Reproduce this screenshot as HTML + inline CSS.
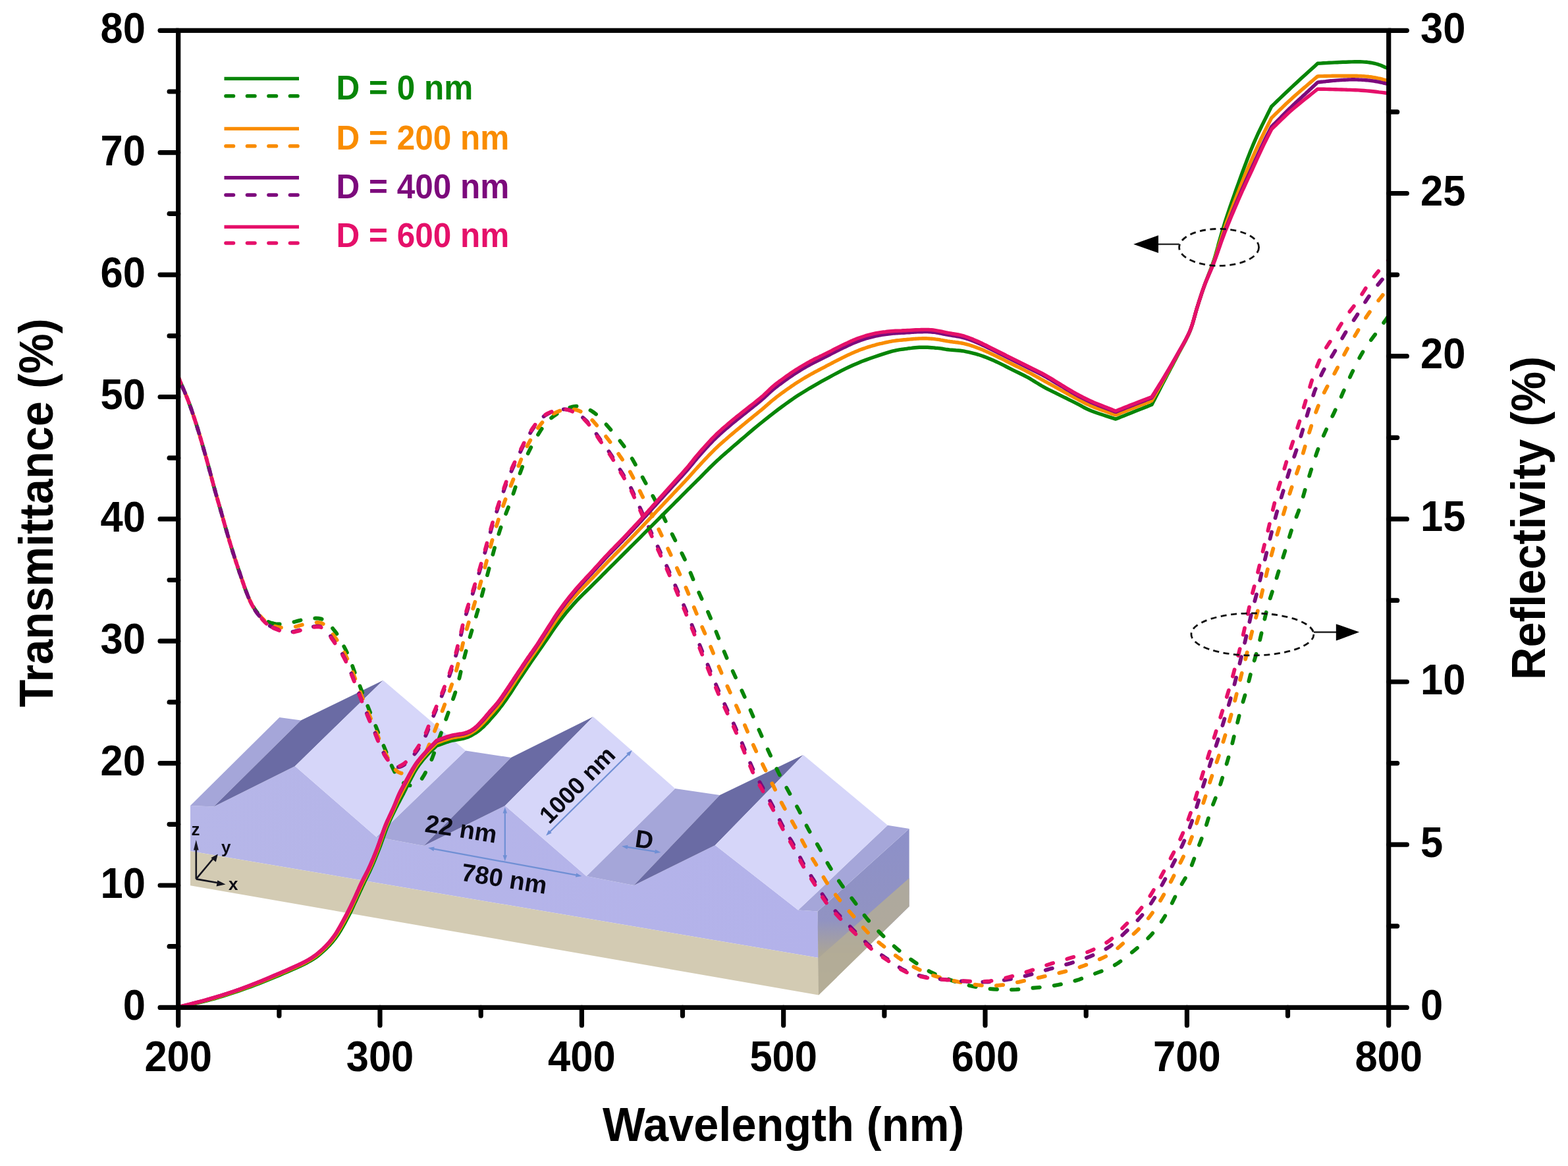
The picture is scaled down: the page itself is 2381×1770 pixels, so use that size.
<!DOCTYPE html>
<html><head><meta charset="utf-8"><title>Transmittance and Reflectivity vs Wavelength</title>
<style>html,body{margin:0;padding:0;background:#fff;}svg{display:block;}</style>
</head><body>
<svg width="2381" height="1770" viewBox="0 0 2381 1770"><g><defs><linearGradient id="sideg" x1="0" y1="0" x2="0" y2="1"><stop offset="0" stop-color="#8d90c9"/><stop offset="0.55" stop-color="#9193c2"/><stop offset="0.75" stop-color="#aba596"/><stop offset="1" stop-color="#b9b29c"/></linearGradient><linearGradient id="frontg" x1="0" y1="0" x2="1" y2="0"><stop offset="0" stop-color="#b6b6e8"/><stop offset="1" stop-color="#b3b2ea"/></linearGradient></defs><polygon fill="url(#frontg)" points="289.0,1223.0 324.5,1224.5 448.0,1163.0 571.5,1270.5 643.5,1284.0 767.0,1223.0 890.5,1330.0 962.5,1344.0 1086.0,1283.0 1212.0,1381.5 1241.5,1383.5 1243.0,1454.0 289.0,1292.0"/><polygon fill="#d3cbb3" points="289.0,1292.0 1243.0,1454.0 1243.0,1510.5 289.0,1344.3"/><polygon fill="url(#sideg)" points="1241.5,1383.5 1380.6,1258.0 1380.6,1376.0 1243.0,1510.5"/><polygon fill="#b4ad97" opacity="0.85" points="1243.0,1454.0 1380.6,1333.0 1380.6,1376.0 1243.0,1510.5"/><polygon fill="#a5a6d9" points="289.0,1223.0 324.5,1224.5 457.0,1093.5 424.4,1089.0"/><polygon fill="#a5a6d9" points="571.5,1270.5 643.5,1284.0 776.0,1150.0 707.0,1139.5"/><polygon fill="#a5a6d9" points="890.5,1330.0 962.5,1344.0 1093.0,1207.0 1025.0,1197.0"/><polygon fill="#a5a6d9" points="1212.0,1381.5 1241.5,1383.5 1380.6,1258.0 1347.9,1252.7"/><polygon fill="#6a6ba4" points="324.5,1224.5 448.0,1163.0 581.8,1032.7 457.0,1093.5"/><polygon fill="#6a6ba4" points="643.5,1284.0 767.0,1223.0 900.8,1088.1 776.0,1150.0"/><polygon fill="#6a6ba4" points="962.5,1344.0 1086.0,1283.0 1219.8,1146.0 1093.0,1207.0"/><polygon fill="#d6d6f9" points="448.0,1163.0 571.5,1270.5 707.0,1139.5 581.8,1032.7"/><polygon fill="#d6d6f9" points="767.0,1223.0 890.5,1330.0 1025.0,1197.0 900.8,1088.1"/><polygon fill="#d6d6f9" points="1086.0,1283.0 1212.0,1381.5 1347.9,1252.7 1219.8,1146.0"/><line x1="766.8" y1="1232.6" x2="766.8" y2="1300.1" stroke="#6f8fd4" stroke-width="2.2"/><polygon fill="#6f8fd4" points="766.8,1225.4 763.6,1234.4 770.0,1234.4"/><polygon fill="#6f8fd4" points="766.8,1307.3 763.6,1298.3 770.0,1298.3"/><line x1="657.3" y1="1288.4" x2="876.3" y2="1328.7" stroke="#6f8fd4" stroke-width="2.2"/><polygon fill="#6f8fd4" points="650.2,1287.1 658.5,1291.9 659.6,1285.6"/><polygon fill="#6f8fd4" points="883.4,1330.0 874.0,1331.5 875.1,1325.2"/><line x1="834.2" y1="1263.5" x2="954.7" y2="1144.2" stroke="#6f8fd4" stroke-width="2.2"/><polygon fill="#6f8fd4" points="829.1,1268.6 837.7,1264.5 833.2,1260.0"/><polygon fill="#6f8fd4" points="959.8,1139.1 955.7,1147.7 951.2,1143.2"/><line x1="951.2" y1="1285.6" x2="996.3" y2="1292.8" stroke="#6f8fd4" stroke-width="2.2"/><polygon fill="#6f8fd4" points="944.1,1284.4 952.5,1289.0 953.5,1282.7"/><polygon fill="#6f8fd4" points="1003.4,1294.0 994.0,1295.7 995.0,1289.4"/><text font-family='"Liberation Sans", Arial, Helvetica, sans-serif' font-weight="bold" fill="#0a0a14" font-size="38" transform="translate(644,1262.5) rotate(9)">22 nm</text><text font-family='"Liberation Sans", Arial, Helvetica, sans-serif' font-weight="bold" fill="#0a0a14" font-size="38" transform="translate(699,1336.5) rotate(9)">780 nm</text><text font-family='"Liberation Sans", Arial, Helvetica, sans-serif' font-weight="bold" fill="#0a0a14" font-size="36.5" text-anchor="middle" transform="translate(885.4,1200.2) rotate(-45.5)">1000 nm</text><text font-family='"Liberation Sans", Arial, Helvetica, sans-serif' font-weight="bold" fill="#0a0a14" font-size="38" transform="translate(963,1285.6) rotate(8)">D</text><g stroke="#15151f" stroke-width="2.6" fill="none"><line x1="297.8" y1="1334.4" x2="297.8" y2="1288"/><line x1="297.8" y1="1334.4" x2="324" y2="1303"/><line x1="297.8" y1="1334.4" x2="330" y2="1340"/></g><g fill="#15151f"><polygon points="297.8,1274.9 301.6,1290.5 294,1290.5"/><polygon points="330.8,1296.6 327.8,1308.5 320.4,1302.3"/><polygon points="342.5,1342.4 328.6,1345.6 330.3,1336.2"/></g><text font-family='"Liberation Sans", Arial, Helvetica, sans-serif' font-weight="bold" fill="#0a0a14" font-size="26" x="290.5" y="1267.5">z</text><text font-family='"Liberation Sans", Arial, Helvetica, sans-serif' font-weight="bold" fill="#0a0a14" font-size="26" x="336" y="1295">y</text><text font-family='"Liberation Sans", Arial, Helvetica, sans-serif' font-weight="bold" fill="#0a0a14" font-size="26" x="347" y="1350.5">x</text></g>
<g><path d="M270.7,572.0L271.7,574.4 272.6,576.7 273.7,579.3 275.2,583.0 277.3,588.0 279.9,593.9 282.6,600.3 285.3,607.0 287.8,613.8 290.4,621.0 292.9,628.5 295.5,636.2 298.1,644.1 300.6,652.4 303.2,660.8 305.7,669.3 308.2,678.0 310.7,686.8 313.3,695.8 315.8,704.9 318.3,714.3 320.9,724.0 323.4,733.6 326.0,743.0 328.6,752.1 331.1,761.0 333.7,769.8 336.2,778.6 338.7,787.5 341.2,796.5 343.8,805.4 346.3,814.1 348.8,822.6 351.4,831.0 353.9,839.2 356.5,847.2 359.1,855.1 361.6,862.8 364.2,870.3 366.7,877.7 369.2,885.1 371.7,892.3 374.3,899.3 376.8,905.6 379.3,911.2 381.9,916.4 384.5,920.9 387.0,925.0 389.5,928.4 392.0,931.2 394.6,933.7 397.1,936.0 399.5,938.3 401.9,940.5 404.4,942.4 407.3,944.0 410.6,945.3 414.3,946.4" fill="none" stroke="#078507" stroke-width="5.8" stroke-dasharray="10.5 22" stroke-dashoffset="22" stroke-linecap="round" stroke-linejoin="round"/>
<path d="M414.3,946.4L418.3,947.2 422.6,947.5 427.3,947.4 432.4,946.8 437.7,945.9 442.9,945.0 448.0,943.8 453.0,942.4 458.1,941.0 463.2,939.9 468.5,939.2 473.8,938.7 479.0,938.5 483.5,938.7 487.3,939.4 490.6,940.4 493.5,941.9 496.3,943.7 499.0,946.1 501.4,948.9 503.7,952.0 506.0,955.0 508.1,957.6 510.0,960.0 512.0,962.9 514.5,967.0 517.7,972.6 521.3,979.4 525.1,986.8 528.5,994.0 531.5,1001.1 534.2,1008.4 536.8,1015.7 539.5,1023.0 542.2,1030.2 545.0,1037.5 547.7,1044.8 550.5,1052.0 553.3,1059.2 556.2,1066.4 559.1,1073.7 562.0,1081.0 565.0,1088.5 568.0,1096.1 571.1,1103.7 574.0,1111.0 576.8,1118.0 579.6,1124.8 582.3,1131.5 585.0,1138.0 587.6,1144.6 590.1,1151.1 592.5,1157.3 595.0,1163.0 597.5,1168.2 599.9,1172.9 602.4,1177.2 605.0,1181.0 607.9,1184.3 610.9,1187.1 614.0,1189.4 617.0,1191.0 620.0,1192.0 623.1,1192.4 626.1,1192.2 629.0,1191.5 631.8,1190.4 634.4,1188.9 637.1,1186.6 640.0,1183.0 643.3,1177.8 646.9,1171.3 650.5,1164.2 653.7,1157.2 656.5,1150.3 659.1,1143.3 661.5,1136.1 664.0,1129.0 666.5,1122.0 669.0,1115.0 671.5,1107.8 674.1,1100.5 676.8,1092.8 679.7,1084.8 682.5,1076.8 685.2,1069.1 687.7,1061.9 690.1,1055.0 692.4,1048.0 694.6,1040.7 696.7,1032.8 698.6,1024.6 700.5,1016.2 702.5,1008.0 704.6,999.9 706.7,991.8 708.8,983.8 711.0,976.0 713.2,968.4 715.4,960.9 717.6,953.6 719.8,946.3 721.9,939.2 723.9,932.2 726.0,925.2 728.0,918.0 730.0,910.6 732.0,903.1 734.0,895.5 736.0,888.0 738.0,880.6 739.9,873.2 741.9,865.7 744.0,858.0 746.2,849.9 748.4,841.5 750.7,833.1 753.0,825.0 755.2,817.6 757.3,810.6 759.6,803.4 762.3,795.5 765.5,786.7 769.1,777.4 773.0,767.5 776.9,756.8 781.0,744.8 785.2,731.8 789.5,718.8 793.8,707.0 798.0,696.8 802.1,687.5 806.4,678.8 810.8,670.5 815.5,662.3 820.3,654.4 825.2,647.2 830.1,641.0 835.1,636.0 840.1,632.1 845.0,628.8 849.5,626.0 853.5,623.6 857.1,621.7 860.5,620.2 864.0,619.0 867.6,617.9 871.1,617.1 874.7,616.7 878.5,616.8 882.5,617.4 886.7,618.6 890.9,620.1 895.0,622.0 898.7,624.1 902.2,626.5 905.8,629.4 910.0,633.3 915.0,638.4 920.6,644.5 926.4,651.1 931.8,657.5 936.9,663.6 941.8,669.7 946.6,676.0 951.2,682.5 955.7,689.4 960.0,696.6 964.1,703.8 968.1,710.8 971.9,717.6 975.5,724.2 979.1,730.8 982.7,737.4 986.3,744.0 990.0,750.5 993.6,757.2 997.2,764.0 1000.8,771.1 1004.5,778.4 1008.1,785.8 1011.7,793.1 1015.3,800.4 1018.9,807.6 1022.6,814.8 1026.2,822.1 1029.9,829.4 1033.7,836.6 1037.3,843.9 1040.8,851.2 1044.0,858.4 1046.9,865.7 1049.9,872.9 1052.9,880.2 1056.1,887.7 1059.4,895.2 1062.7,902.7 1066.0,910.0 1068.9,916.1 1071.5,921.4 1074.5,927.8 1078.5,937.0 1084.0,950.3 1090.4,966.5 1097.3,983.7 1104.1,999.9 1110.8,1014.8 1117.5,1029.4 1124.3,1043.8 1130.8,1058.0 1137.0,1072.0 1142.9,1085.9 1148.8,1099.7 1155.0,1113.7 1161.7,1128.7 1168.8,1144.3 1175.6,1159.1 1181.6,1171.8 1186.6,1181.7 1190.8,1189.5 1194.7,1196.4 1198.5,1203.3 1202.3,1210.2 1206.0,1216.8 1209.5,1223.2 1213.1,1229.9 1216.7,1237.0 1220.2,1244.3 1223.8,1251.7 1227.6,1259.0 1231.7,1266.3 1236.1,1273.7 1240.5,1280.9 1244.6,1288.0 1248.3,1294.8 1251.7,1301.3 1255.2,1307.9 1259.1,1314.6 1263.5,1321.7 1268.2,1329.0 1273.1,1336.3 1277.9,1343.2 1282.5,1349.5 1287.2,1355.5 1291.8,1361.5 1296.6,1367.7 1301.5,1374.4 1306.5,1381.4 1311.6,1388.4 1316.8,1395.0 1322.1,1401.1 1327.4,1406.9 1332.9,1412.5 1338.4,1418.1 1344.0,1423.7 1349.8,1429.2 1355.6,1434.5 1361.5,1439.7 1367.4,1444.6 1373.4,1449.3 1379.6,1453.9 1385.9,1458.4 1392.5,1463.0 1399.3,1467.5 1406.3,1471.8 1413.3,1475.7 1420.4,1479.0 1427.6,1482.0 1434.9,1484.7 1442.1,1487.2 1449.3,1489.7 1456.5,1492.0 1463.7,1494.1 1470.9,1495.9 1478.0,1497.5 1485.1,1498.8 1492.3,1499.9 1500.0,1500.8 1508.3,1501.5 1516.9,1502.1 1525.7,1502.4 1534.4,1502.4 1542.9,1502.1 1551.3,1501.4 1559.6,1500.6 1567.8,1499.8 1575.8,1499.1 1583.7,1498.3 1591.5,1497.4 1599.4,1496.3 1607.3,1494.9 1615.3,1493.2 1623.2,1491.4 1631.0,1489.3 1638.6,1486.9 1646.0,1484.3 1653.4,1481.6 1660.8,1478.7 1668.3,1475.9 1675.9,1473.1 1683.4,1470.0 1690.6,1466.4 1697.5,1462.1 1704.1,1457.3 1710.6,1452.2 1717.0,1447.1 1723.4,1442.0 1729.7,1436.8 1735.8,1431.5 1741.5,1426.1 1746.8,1420.6 1751.7,1415.0 1756.4,1409.2 1760.9,1403.2 1765.1,1396.9 1769.1,1390.4 1772.9,1383.7 1776.6,1376.9 1780.2,1370.0 1783.6,1363.0 1787.1,1355.9 1790.7,1348.8 1794.6,1341.9 1798.7,1335.0 1802.8,1328.0 1806.5,1320.7 1809.8,1313.0 1812.8,1304.9 1815.7,1296.8 1818.5,1289.0 1821.4,1281.5 1824.2,1274.2 1826.9,1266.9 1829.5,1259.6 1831.9,1252.1 1834.2,1244.6 1836.5,1237.1 1838.9,1229.6 1841.6,1222.1 1844.6,1214.5 1847.5,1207.0 1850.2,1199.5 1852.7,1192.0 1855.0,1184.6 1857.3,1177.1 1859.6,1169.5 1862.0,1161.6 1864.4,1153.5 1866.7,1145.5 1868.9,1137.6 1870.9,1130.0 1872.7,1122.6 1874.5,1115.2 1876.4,1107.6 1878.4,1099.7 1880.4,1091.6 1882.4,1083.6 1884.5,1075.7 1886.7,1068.1 1888.9,1060.7 1891.1,1053.3 1893.3,1045.7 1895.4,1037.8 1897.4,1029.7 1899.4,1021.7 1901.5,1013.8 1903.6,1006.3 1905.8,998.9 1908.0,991.5 1910.1,984.0 1912.1,976.2 1913.9,968.2 1915.8,960.1 1917.6,952.1 1919.4,944.1 1921.2,936.0 1923.1,928.0 1925.1,920.2 1927.3,912.6 1929.7,905.1 1932.1,897.7 1934.5,890.2 1936.8,882.7 1939.2,875.2 1941.5,867.6 1943.9,860.1 1946.2,852.6 1948.6,845.1 1951.0,837.6 1953.3,830.1 1955.6,822.6 1957.9,815.1 1960.2,807.6 1962.7,800.1 1965.4,792.6 1968.3,785.2 1971.2,777.7 1973.9,770.1 1976.4,762.2 1978.7,754.2 1981.0,746.1 1983.3,738.2 1985.6,730.5 1988.0,723.0 1990.3,715.5 1992.7,708.1 1995.0,700.8 1997.3,693.7 1999.8,686.5 2002.5,679.0 2005.7,671.0 2009.2,662.7 2012.9,654.4 2016.4,646.5 2019.8,639.2 2023.1,632.2 2026.3,625.4 2029.6,618.3 2032.9,610.9 2036.2,603.3 2039.4,595.7 2042.7,588.3 2045.9,581.1 2049.1,574.1 2052.4,567.1 2055.8,560.1 2059.3,553.0 2062.9,545.9 2066.7,538.9 2070.8,532.0 2075.3,525.2 2080.2,518.4 2085.1,511.8 2089.6,505.7 2093.9,499.8 2098.1,494.1 2101.8,489.0 2104.6,485.1 2106.3,482.7 2107.0,481.6 2107.4,480.9 2108.0,480.0" fill="none" stroke="#078507" stroke-width="5.8" stroke-dasharray="10.5 22" stroke-dashoffset="0" stroke-linecap="round" stroke-linejoin="round"/>
<path d="M270.7,572.0L271.7,574.5 272.7,576.9 273.7,579.4 274.7,581.8 275.7,584.2 276.7,586.5 277.7,588.8 278.7,591.1 279.7,593.4 280.7,595.7 281.7,598.1 282.7,600.5 283.7,602.9 284.7,605.5 285.7,608.1 286.7,610.7 287.7,613.5 288.7,616.2 289.7,619.1 290.7,621.9 291.7,624.8 292.7,627.8 293.7,630.8 294.7,633.8 295.7,636.8 296.7,639.9 297.7,643.0 298.7,646.2 299.7,649.4 300.7,652.7 301.7,655.9 302.7,659.2 303.7,662.6 304.7,665.9 305.7,669.3 306.7,672.7 307.7,676.1 308.7,679.6 309.7,683.1 310.7,686.6 311.7,690.2 312.7,693.7 313.7,697.3 314.7,700.9 315.7,704.5 316.7,708.2 317.7,711.9 318.7,715.7 319.7,719.4 320.7,723.2 321.7,727.0 322.7,730.8 323.7,734.5 324.7,738.2 325.7,741.9 326.7,745.5 327.7,749.1 328.7,752.6 329.7,756.1 330.7,759.6 331.7,763.0 332.7,766.5 333.7,769.9 334.7,773.4 335.7,776.9 336.7,780.4 337.7,783.9 338.7,787.4 339.7,791.0 340.7,794.5 341.7,798.1 342.7,801.6 343.7,805.1 344.7,808.6 345.7,812.1 346.7,815.4 347.7,818.8 348.7,822.1 349.7,825.4 350.7,828.7 351.7,832.0 352.7,835.2 353.7,838.4 354.7,841.5 355.7,844.7 356.7,847.8 357.7,850.9 358.7,854.0 359.7,857.0 360.7,860.1 361.7,863.1 362.7,866.0 363.7,869.0 364.7,871.9 365.7,874.8 366.7,877.7 367.7,880.6 368.7,883.5 369.7,886.4 370.7,889.3 371.7,892.2 372.7,895.0 373.7,897.7 374.7,900.4 375.7,902.9 376.7,905.4 377.7,907.7 378.7,909.9 379.7,912.1 380.7,914.2 381.7,916.2 382.7,918.1 383.7,919.9 384.7,921.7 385.7,923.4 386.7,925.0 387.7,926.5 388.7,928.0 389.7,929.3 390.7,930.5 391.7,931.7 392.7,932.8 393.7,933.9 394.7,934.9 395.7,935.9 396.7,936.9 397.7,938.0 398.7,939.0 399.7,940.1 400.7,941.1 401.7,942.1 402.7,943.0 403.7,943.9 404.7,944.7 405.7,945.4 406.7,946.0 407.7,946.6 408.7,947.2 409.7,947.7 410.7,948.2 411.7,948.6 412.7,949.0 413.7,949.4 414.7,949.8 415.7,950.1 416.7,950.5 417.7,950.8" fill="none" stroke="#f98c00" stroke-width="5.8" stroke-dasharray="10.5 22" stroke-dashoffset="6" stroke-linecap="round" stroke-linejoin="round"/>
<path d="M417.7,950.8L418.7,951.0 419.7,951.3 420.7,951.5 421.7,951.8 422.7,952.0 423.7,952.1 424.7,952.3 425.7,952.4 426.7,952.6 427.7,952.7 428.7,952.8 429.7,952.9 430.7,953.0 431.7,953.0 432.7,953.1 433.7,953.1 434.7,953.1 435.7,953.1 436.7,953.1 437.7,953.1 438.7,953.0 439.7,952.9 440.7,952.8 441.7,952.7 442.7,952.6 443.7,952.4 444.7,952.3 445.7,952.0 446.7,951.8 447.7,951.6 448.7,951.3 449.7,951.0 450.7,950.8 451.7,950.5 452.7,950.2 453.7,949.9 454.7,949.6 455.7,949.3 456.7,949.0 457.7,948.8 458.7,948.5 459.7,948.3 460.7,948.1 461.7,947.8 462.7,947.6 463.7,947.4 464.7,947.2 465.7,947.0 466.7,946.8 467.7,946.6 468.7,946.4 469.7,946.2 470.7,946.0 471.7,945.9 472.7,945.7 473.7,945.6 474.7,945.5 475.7,945.4 476.7,945.3 477.7,945.2 478.7,945.1 479.7,945.1 480.7,945.0 481.7,945.0 482.7,945.0 483.7,945.1 484.7,945.2 485.7,945.4 486.7,945.6 487.7,945.9 488.7,946.2 489.7,946.7 490.7,947.1 491.7,947.7 492.7,948.3 493.7,949.0 494.7,949.7 495.7,950.5 496.7,951.4 497.7,952.4 498.7,953.6 499.7,954.9 500.7,956.4 501.7,957.8 502.7,959.2 503.7,960.6 504.7,962.1 505.7,963.5 506.7,964.8 507.7,966.2 508.7,967.5 509.7,968.9 510.7,970.3 511.7,971.8 512.7,973.3 513.7,974.9 514.7,976.5 515.7,978.1 516.7,979.8 517.7,981.5 518.7,983.2 519.7,985.0 520.7,986.8 521.7,988.6 522.7,990.5 523.7,992.5 524.7,994.5 525.7,996.6 526.7,998.7 527.7,1000.9 528.7,1003.2 529.7,1005.5 530.7,1008.0 531.7,1010.4 532.7,1013.0 533.7,1015.5 534.7,1018.1 535.7,1020.7 536.7,1023.4 537.7,1026.0 538.7,1028.7 539.7,1031.3 540.7,1034.0 541.7,1036.6 542.7,1039.3 543.7,1041.9 544.7,1044.5 545.7,1047.1 546.7,1049.8 547.7,1052.4 548.7,1055.0 549.7,1057.6 550.7,1060.2 551.7,1062.8 552.7,1065.3 553.7,1067.9 554.7,1070.4 555.7,1072.9 556.7,1075.4 557.7,1077.9 558.7,1080.3 559.7,1082.8 560.7,1085.2 561.7,1087.6 562.7,1090.1 563.7,1092.5 564.7,1094.9 565.7,1097.4 566.7,1099.8 567.7,1102.2 568.7,1104.6 569.7,1107.1 570.7,1109.6 571.7,1112.1 572.7,1114.5 573.7,1117.0 574.7,1119.5 575.7,1122.0 576.7,1124.4 577.7,1126.8 578.7,1129.2 579.7,1131.5 580.7,1133.8 581.7,1136.0 582.7,1138.2 583.7,1140.3 584.7,1142.4 585.7,1144.4 586.7,1146.4 587.7,1148.4 588.7,1150.4 589.7,1152.3 590.7,1154.2 591.7,1156.0 592.7,1157.7 593.7,1159.4 594.7,1160.9 595.7,1162.4 596.7,1163.8 597.7,1165.2 598.7,1166.5 599.7,1167.7 600.7,1168.7 601.7,1169.7 602.7,1170.6 603.7,1171.4 604.7,1172.0 605.7,1172.5 606.7,1173.0 607.7,1173.3 608.7,1173.6 609.7,1173.8 610.7,1174.0 611.7,1174.1 612.7,1174.1 613.7,1174.1 614.7,1174.0 615.7,1173.9 616.7,1173.7 617.7,1173.5 618.7,1173.2 619.7,1172.8 620.7,1172.4 621.7,1171.9 622.7,1171.4 623.7,1170.8 624.7,1170.2 625.7,1169.5 626.7,1168.8 627.7,1168.0 628.7,1167.2 629.7,1166.3 630.7,1165.4 631.7,1164.5 632.7,1163.5 633.7,1162.4 634.7,1161.4 635.7,1160.2 636.7,1158.9 637.7,1157.6 638.7,1156.2 639.7,1154.7 640.7,1153.1 641.7,1151.5 642.7,1149.8 643.7,1148.0 644.7,1146.1 645.7,1144.1 646.7,1142.0 647.7,1139.9 648.7,1137.7 649.7,1135.4 650.7,1133.0 651.7,1130.6 652.7,1128.2 653.7,1125.8 654.7,1123.3 655.7,1120.8 656.7,1118.2 657.7,1115.7 658.7,1113.1 659.7,1110.5 660.7,1107.8 661.7,1105.2 662.7,1102.6 663.7,1100.0 664.7,1097.4 665.7,1094.8 666.7,1092.2 667.7,1089.6 668.7,1087.0 669.7,1084.4 670.7,1081.7 671.7,1079.0 672.7,1076.4 673.7,1073.7 674.7,1071.0 675.7,1068.3 676.7,1065.6 677.7,1062.9 678.7,1060.2 679.7,1057.4 680.7,1054.6 681.7,1051.8 682.7,1049.0 683.7,1046.1 684.7,1043.2 685.7,1040.3 686.7,1037.4 687.7,1034.4 688.7,1031.4 689.7,1028.3 690.7,1025.1 691.7,1021.8 692.7,1018.4 693.7,1014.8 694.7,1011.2 695.7,1007.3 696.7,1003.3 697.7,999.2 698.7,995.0 699.7,990.6 700.7,986.3 701.7,982.0 702.7,977.8 703.7,973.8 704.7,969.8 705.7,966.0 706.7,962.2 707.7,958.6 708.7,955.1 709.7,951.6 710.7,948.3 711.7,944.9 712.7,941.7 713.7,938.4 714.7,935.2 715.7,932.1 716.7,928.9 717.7,925.7 718.7,922.4 719.7,919.1 720.7,915.8 721.7,912.5 722.7,909.2 723.7,905.9 724.7,902.6 725.7,899.2 726.7,895.8 727.7,892.4 728.7,888.9 729.7,885.3 730.7,881.8 731.7,878.1 732.7,874.5 733.7,870.9 734.7,867.2 735.7,863.5 736.7,859.9 737.7,856.2 738.7,852.5 739.7,848.8 740.7,845.1 741.7,841.3 742.7,837.6 743.7,833.8 744.7,830.1 745.7,826.5 746.7,822.8 747.7,819.2 748.7,815.7 749.7,812.3 750.7,808.9 751.7,805.5 752.7,802.2 753.7,799.0 754.7,795.7 755.7,792.6 756.7,789.4 757.7,786.3 758.7,783.3 759.7,780.3 760.7,777.3 761.7,774.4 762.7,771.5 763.7,768.6 764.7,765.8 765.7,763.0 766.7,760.3 767.7,757.6 768.7,755.0 769.7,752.4 770.7,749.8 771.7,747.2 772.7,744.7 773.7,742.2 774.7,739.7 775.7,737.2 776.7,734.7 777.7,732.2 778.7,729.6 779.7,727.1 780.7,724.5 781.7,722.0 782.7,719.4 783.7,716.8 784.7,714.2 785.7,711.6 786.7,709.1 787.7,706.5 788.7,704.0 789.7,701.5 790.7,699.0 791.7,696.5 792.7,694.1 793.7,691.8 794.7,689.5 795.7,687.3 796.7,685.1 797.7,682.9 798.7,680.9 799.7,678.8 800.7,676.8 801.7,674.9 802.7,673.0 803.7,671.1 804.7,669.3 805.7,667.5 806.7,665.7 807.7,664.0 808.7,662.3 809.7,660.6 810.7,659.0 811.7,657.4 812.7,655.8 813.7,654.3 814.7,652.8 815.7,651.3 816.7,649.9 817.7,648.5 818.7,647.2 819.7,645.9 820.7,644.6 821.7,643.4 822.7,642.2 823.7,641.0 824.7,639.9 825.7,638.9 826.7,637.9 827.7,636.9 828.7,636.0 829.7,635.1 830.7,634.2 831.7,633.4 832.7,632.6 833.7,632.0 834.7,631.3 835.7,630.6 836.7,630.0 837.7,629.4 838.7,628.8 839.7,628.3 840.7,627.8 841.7,627.3 842.7,626.8 843.7,626.3 844.7,625.9 845.7,625.4 846.7,625.0 847.7,624.6 848.7,624.1 849.7,623.8 850.7,623.4 851.7,623.0 852.7,622.7 853.7,622.3 854.7,622.0 855.7,621.8 856.7,621.5 857.7,621.4 858.7,621.2 859.7,621.0 860.7,620.9 861.7,620.9 862.7,620.8 863.7,620.8 864.7,620.8 865.7,620.8 866.7,620.9 867.7,621.0 868.7,621.0 869.7,621.2 870.7,621.3 871.7,621.5 872.7,621.7 873.7,621.9 874.7,622.2 875.7,622.4 876.7,622.7 877.7,623.1 878.7,623.4 879.7,623.8 880.7,624.3 881.7,624.7 882.7,625.2 883.7,625.7 884.7,626.3 885.7,626.9 886.7,627.5 887.7,628.1 888.7,628.8 889.7,629.5 890.7,630.2 891.7,630.9 892.7,631.7 893.7,632.5 894.7,633.4 895.7,634.3 896.7,635.2 897.7,636.2 898.7,637.2 899.7,638.3 900.7,639.3 901.7,640.4 902.7,641.6 903.7,642.7 904.7,643.9 905.7,645.1 906.7,646.3 907.7,647.5 908.7,648.7 909.7,649.9 910.7,651.1 911.7,652.3 912.7,653.5 913.7,654.7 914.7,655.9 915.7,657.2 916.7,658.4 917.7,659.6 918.7,660.9 919.7,662.1 920.7,663.4 921.7,664.7 922.7,666.0 923.7,667.3 924.7,668.6 925.7,669.9 926.7,671.2 927.7,672.6 928.7,673.9 929.7,675.3 930.7,676.7 931.7,678.2 932.7,679.6 933.7,681.0 934.7,682.5 935.7,684.0 936.7,685.4 937.7,686.9 938.7,688.4 939.7,689.8 940.7,691.3 941.7,692.8 942.7,694.2 943.7,695.7 944.7,697.2 945.7,698.6 946.7,700.1 947.7,701.6 948.7,703.1 949.7,704.6 950.7,706.1 951.7,707.7 952.7,709.3 953.7,711.0 954.7,712.6 955.7,714.4 956.7,716.1 957.7,717.9 958.7,719.8 959.7,721.7 960.7,723.6 961.7,725.6 962.7,727.6 963.7,729.6 964.7,731.6 965.7,733.6 966.7,735.6 967.7,737.6 968.7,739.6 969.7,741.6 970.7,743.6 971.7,745.6 972.7,747.6 973.7,749.7 974.7,751.7 975.7,753.8 976.7,755.8 977.7,757.8 978.7,759.9 979.7,761.9 980.7,764.0 981.7,766.0 982.7,768.0 983.7,770.0 984.7,772.0 985.7,774.0 986.7,776.0 987.7,778.0 988.7,780.0 989.7,782.0 990.7,784.0 991.7,786.1 992.7,788.1 993.7,790.1 994.7,792.1 995.7,794.1 996.7,796.2 997.7,798.2 998.7,800.3 999.7,802.3 1000.7,804.4 1001.7,806.5 1002.7,808.6 1003.7,810.7 1004.7,812.8 1005.7,814.9 1006.7,817.0 1007.7,819.2 1008.7,821.3 1009.7,823.4 1010.7,825.5 1011.7,827.6 1012.7,829.7 1013.7,831.8 1014.7,833.9 1015.7,836.0 1016.7,838.2 1017.7,840.3 1018.7,842.4 1019.7,844.6 1020.7,846.7 1021.7,848.9 1022.7,851.1 1023.7,853.2 1024.7,855.4 1025.7,857.5 1026.7,859.7 1027.7,861.9 1028.7,864.0 1029.7,866.2 1030.7,868.3 1031.7,870.4 1032.7,872.6 1033.7,874.7 1034.7,876.9 1035.7,879.0 1036.7,881.2 1037.7,883.4 1038.7,885.6 1039.7,887.9 1040.7,890.1 1041.7,892.4 1042.7,894.8 1043.7,897.2 1044.7,899.6 1045.7,902.0 1046.7,904.5 1047.7,906.9 1048.7,909.4 1049.7,911.9 1050.7,914.3 1051.7,916.8 1052.7,919.2 1053.7,921.7 1054.7,924.1 1055.7,926.5 1056.7,929.0 1057.7,931.4 1058.7,933.9 1059.7,936.3 1060.7,938.8 1061.7,941.2 1062.7,943.6 1063.7,946.0 1064.7,948.4 1065.7,950.8 1066.7,953.1 1067.7,955.5 1068.7,957.7 1069.7,960.0 1070.7,962.2 1071.7,964.5 1072.7,966.8 1073.7,969.1 1074.7,971.4 1075.7,973.7 1076.7,976.1 1077.7,978.4 1078.7,980.8 1079.7,983.2 1080.7,985.6 1081.7,988.1 1082.7,990.5 1083.7,992.9 1084.7,995.4 1085.7,997.8 1086.7,1000.2 1087.7,1002.7 1088.7,1005.1 1089.7,1007.5 1090.7,1009.9 1091.7,1012.3 1092.7,1014.7 1093.7,1017.1 1094.7,1019.4 1095.7,1021.8 1096.7,1024.1 1097.7,1026.4 1098.7,1028.8 1099.7,1031.0 1100.7,1033.3 1101.7,1035.6 1102.7,1037.8 1103.7,1040.1 1104.7,1042.3 1105.7,1044.5 1106.7,1046.7 1107.7,1048.9 1108.7,1051.1 1109.7,1053.3 1110.7,1055.5 1111.7,1057.6 1112.7,1059.8 1113.7,1062.0 1114.7,1064.2 1115.7,1066.3 1116.7,1068.5 1117.7,1070.7 1118.7,1072.9 1119.7,1075.1 1120.7,1077.4 1121.7,1079.6 1122.7,1081.9 1123.7,1084.1 1124.7,1086.4 1125.7,1088.7 1126.7,1091.0 1127.7,1093.3 1128.7,1095.6 1129.7,1098.0 1130.7,1100.3 1131.7,1102.6 1132.7,1105.0 1133.7,1107.4 1134.7,1109.7 1135.7,1112.1 1136.7,1114.4 1137.7,1116.8 1138.7,1119.1 1139.7,1121.5 1140.7,1123.8 1141.7,1126.1 1142.7,1128.4 1143.7,1130.6 1144.7,1132.8 1145.7,1135.0 1146.7,1137.2 1147.7,1139.3 1148.7,1141.4 1149.7,1143.5 1150.7,1145.6 1151.7,1147.6 1152.7,1149.7 1153.7,1151.7 1154.7,1153.7 1155.7,1155.6 1156.7,1157.6 1157.7,1159.6 1158.7,1161.6 1159.7,1163.7 1160.7,1165.7 1161.7,1167.7 1162.7,1169.7 1163.7,1171.8 1164.7,1173.8 1165.7,1175.8 1166.7,1177.8 1167.7,1179.8 1168.7,1181.8 1169.7,1183.8 1170.7,1185.8 1171.7,1187.9 1172.7,1189.9 1173.7,1191.9 1174.7,1193.9 1175.7,1196.0 1176.7,1198.0 1177.7,1200.1 1178.7,1202.2 1179.7,1204.3 1180.7,1206.3 1181.7,1208.4 1182.7,1210.4 1183.7,1212.5 1184.7,1214.5 1185.7,1216.4 1186.7,1218.4 1187.7,1220.3 1188.7,1222.2 1189.7,1224.0 1190.7,1225.8 1191.7,1227.6 1192.7,1229.3 1193.7,1231.1 1194.7,1232.8 1195.7,1234.5 1196.7,1236.2 1197.7,1238.0 1198.7,1239.7 1199.7,1241.5 1200.7,1243.2 1201.7,1245.0 1202.7,1246.7 1203.7,1248.5 1204.7,1250.3 1205.7,1252.1 1206.7,1253.9 1207.7,1255.7 1208.7,1257.6 1209.7,1259.5 1210.7,1261.4 1211.7,1263.3 1212.7,1265.3 1213.7,1267.3 1214.7,1269.3 1215.7,1271.2 1216.7,1273.2 1217.7,1275.2 1218.7,1277.2 1219.7,1279.1 1220.7,1281.0 1221.7,1282.9 1222.7,1284.7 1223.7,1286.6 1224.7,1288.4 1225.7,1290.1 1226.7,1291.9 1227.7,1293.6 1228.7,1295.3 1229.7,1296.9 1230.7,1298.5 1231.7,1300.2 1232.7,1301.8 1233.7,1303.4 1234.7,1305.0 1235.7,1306.6 1236.7,1308.2 1237.7,1309.8 1238.7,1311.5 1239.7,1313.1 1240.7,1314.8 1241.7,1316.5 1242.7,1318.2 1243.7,1319.9 1244.7,1321.6 1245.7,1323.3 1246.7,1325.0 1247.7,1326.8 1248.7,1328.5 1249.7,1330.3 1250.7,1332.0 1251.7,1333.7 1252.7,1335.4 1253.7,1337.0 1254.7,1338.6 1255.7,1340.2 1256.7,1341.7 1257.7,1343.2 1258.7,1344.6 1259.7,1346.1 1260.7,1347.5 1261.7,1348.9 1262.7,1350.3 1263.7,1351.6 1264.7,1353.0 1265.7,1354.3 1266.7,1355.6 1267.7,1356.9 1268.7,1358.2 1269.7,1359.5 1270.7,1360.8 1271.7,1362.1 1272.7,1363.3 1273.7,1364.6 1274.7,1365.9 1275.7,1367.1 1276.7,1368.4 1277.7,1369.6 1278.7,1370.8 1279.7,1372.0 1280.7,1373.3 1281.7,1374.4 1282.7,1375.6 1283.7,1376.8 1284.7,1377.9 1285.7,1379.1 1286.7,1380.2 1287.7,1381.4 1288.7,1382.5 1289.7,1383.6 1290.7,1384.8 1291.7,1385.9 1292.7,1387.0 1293.7,1388.2 1294.7,1389.3 1295.7,1390.4 1296.7,1391.6 1297.7,1392.7 1298.7,1393.9 1299.7,1395.1 1300.7,1396.3 1301.7,1397.4 1302.7,1398.6 1303.7,1399.8 1304.7,1401.0 1305.7,1402.2 1306.7,1403.3 1307.7,1404.5 1308.7,1405.7 1309.7,1406.8 1310.7,1407.9 1311.7,1409.1 1312.7,1410.2 1313.7,1411.3 1314.7,1412.4 1315.7,1413.4 1316.7,1414.5 1317.7,1415.5 1318.7,1416.5 1319.7,1417.5 1320.7,1418.5 1321.7,1419.5 1322.7,1420.4 1323.7,1421.3 1324.7,1422.3 1325.7,1423.1 1326.7,1424.0 1327.7,1424.9 1328.7,1425.8 1329.7,1426.6 1330.7,1427.5 1331.7,1428.3 1332.7,1429.2 1333.7,1430.0 1334.7,1430.8 1335.7,1431.6 1336.7,1432.4 1337.7,1433.2 1338.7,1434.0 1339.7,1434.8 1340.7,1435.6 1341.7,1436.4 1342.7,1437.2 1343.7,1438.0 1344.7,1438.8 1345.7,1439.5 1346.7,1440.3 1347.7,1441.1 1348.7,1441.9 1349.7,1442.7 1350.7,1443.4 1351.7,1444.2 1352.7,1445.0 1353.7,1445.8 1354.7,1446.6 1355.7,1447.3 1356.7,1448.1 1357.7,1448.9 1358.7,1449.6 1359.7,1450.4 1360.7,1451.1 1361.7,1451.8 1362.7,1452.6 1363.7,1453.3 1364.7,1454.0 1365.7,1454.7 1366.7,1455.4 1367.7,1456.1 1368.7,1456.8 1369.7,1457.4 1370.7,1458.1 1371.7,1458.7 1372.7,1459.4 1373.7,1460.0 1374.7,1460.6 1375.7,1461.2 1376.7,1461.8 1377.7,1462.4 1378.7,1463.0 1379.7,1463.5 1380.7,1464.1 1381.7,1464.6 1382.7,1465.2 1383.7,1465.7 1384.7,1466.3 1385.7,1466.8 1386.7,1467.3 1387.7,1467.8 1388.7,1468.3 1389.7,1468.8 1390.7,1469.4 1391.7,1469.9 1392.7,1470.4 1393.7,1470.9 1394.7,1471.3 1395.7,1471.8 1396.7,1472.3 1397.7,1472.8 1398.7,1473.3 1399.7,1473.8 1400.7,1474.2 1401.7,1474.7 1402.7,1475.1 1403.7,1475.6 1404.7,1476.0 1405.7,1476.5 1406.7,1476.9 1407.7,1477.3 1408.7,1477.7 1409.7,1478.1 1410.7,1478.5 1411.7,1478.9 1412.7,1479.3 1413.7,1479.6 1414.7,1480.0 1415.7,1480.3 1416.7,1480.7 1417.7,1481.0 1418.7,1481.3 1419.7,1481.6 1420.7,1481.9 1421.7,1482.2 1422.7,1482.5 1423.7,1482.8 1424.7,1483.1 1425.7,1483.3 1426.7,1483.6 1427.7,1483.9 1428.7,1484.1 1429.7,1484.4 1430.7,1484.6 1431.7,1484.9 1432.7,1485.1 1433.7,1485.4 1434.7,1485.6 1435.7,1485.9 1436.7,1486.1 1437.7,1486.3 1438.7,1486.6 1439.7,1486.8 1440.7,1487.1 1441.7,1487.3 1442.7,1487.6 1443.7,1487.8 1444.7,1488.0 1445.7,1488.3 1446.7,1488.5 1447.7,1488.8 1448.7,1489.0 1449.7,1489.2 1450.7,1489.4 1451.7,1489.7 1452.7,1489.9 1453.7,1490.1 1454.7,1490.3 1455.7,1490.5 1456.7,1490.8 1457.7,1491.0 1458.7,1491.2 1459.7,1491.4 1460.7,1491.6 1461.7,1491.8 1462.7,1492.0 1463.7,1492.1 1464.7,1492.3 1465.7,1492.5 1466.7,1492.7 1467.7,1492.8 1468.7,1493.0 1469.7,1493.2 1470.7,1493.3 1471.7,1493.5 1472.7,1493.6 1473.7,1493.8 1474.7,1493.9 1475.7,1494.1 1476.7,1494.2 1477.7,1494.3 1478.7,1494.5 1479.7,1494.6 1480.7,1494.7 1481.7,1494.8 1482.7,1495.0 1483.7,1495.1 1484.7,1495.2 1485.7,1495.3 1486.7,1495.4 1487.7,1495.5 1488.7,1495.6 1489.7,1495.7 1490.7,1495.8 1491.7,1495.8 1492.7,1495.9 1493.7,1496.0 1494.7,1496.0 1495.7,1496.1 1496.7,1496.2 1497.7,1496.2 1498.7,1496.2 1499.7,1496.3 1500.7,1496.3 1501.7,1496.3 1502.7,1496.4 1503.7,1496.4 1504.7,1496.4 1505.7,1496.3 1506.7,1496.3 1507.7,1496.3 1508.7,1496.3 1509.7,1496.2 1510.7,1496.2 1511.7,1496.1 1512.7,1496.1 1513.7,1496.0 1514.7,1495.9 1515.7,1495.8 1516.7,1495.7 1517.7,1495.7 1518.7,1495.5 1519.7,1495.4 1520.7,1495.3 1521.7,1495.2 1522.7,1495.1 1523.7,1495.0 1524.7,1494.8 1525.7,1494.7 1526.7,1494.5 1527.7,1494.4 1528.7,1494.2 1529.7,1494.1 1530.7,1493.9 1531.7,1493.8 1532.7,1493.6 1533.7,1493.4 1534.7,1493.2 1535.7,1493.1 1536.7,1492.9 1537.7,1492.7 1538.7,1492.5 1539.7,1492.3 1540.7,1492.1 1541.7,1491.9 1542.7,1491.7 1543.7,1491.5 1544.7,1491.2 1545.7,1491.0 1546.7,1490.8 1547.7,1490.6 1548.7,1490.3 1549.7,1490.1 1550.7,1489.9 1551.7,1489.7 1552.7,1489.4 1553.7,1489.2 1554.7,1489.0 1555.7,1488.8 1556.7,1488.5 1557.7,1488.3 1558.7,1488.1 1559.7,1487.9 1560.7,1487.7 1561.7,1487.5 1562.7,1487.3 1563.7,1487.1 1564.7,1486.8 1565.7,1486.6 1566.7,1486.4 1567.7,1486.2 1568.7,1486.0 1569.7,1485.8 1570.7,1485.5 1571.7,1485.3 1572.7,1485.1 1573.7,1484.9 1574.7,1484.7 1575.7,1484.5 1576.7,1484.2 1577.7,1484.0 1578.7,1483.8 1579.7,1483.6 1580.7,1483.3 1581.7,1483.1 1582.7,1482.9 1583.7,1482.7 1584.7,1482.4 1585.7,1482.2 1586.7,1482.0 1587.7,1481.8 1588.7,1481.5 1589.7,1481.3 1590.7,1481.1 1591.7,1480.8 1592.7,1480.6 1593.7,1480.4 1594.7,1480.2 1595.7,1479.9 1596.7,1479.7 1597.7,1479.5 1598.7,1479.2 1599.7,1479.0 1600.7,1478.7 1601.7,1478.5 1602.7,1478.3 1603.7,1478.0 1604.7,1477.8 1605.7,1477.6 1606.7,1477.3 1607.7,1477.1 1608.7,1476.9 1609.7,1476.6 1610.7,1476.4 1611.7,1476.1 1612.7,1475.9 1613.7,1475.6 1614.7,1475.4 1615.7,1475.1 1616.7,1474.9 1617.7,1474.6 1618.7,1474.4 1619.7,1474.1 1620.7,1473.8 1621.7,1473.6 1622.7,1473.3 1623.7,1473.0 1624.7,1472.7 1625.7,1472.4 1626.7,1472.1 1627.7,1471.8 1628.7,1471.5 1629.7,1471.2 1630.7,1470.9 1631.7,1470.6 1632.7,1470.3 1633.7,1470.0 1634.7,1469.7 1635.7,1469.4 1636.7,1469.1 1637.7,1468.7 1638.7,1468.4 1639.7,1468.1 1640.7,1467.7 1641.7,1467.4 1642.7,1467.0 1643.7,1466.7 1644.7,1466.3 1645.7,1466.0 1646.7,1465.6 1647.7,1465.2 1648.7,1464.8 1649.7,1464.5 1650.7,1464.1 1651.7,1463.7 1652.7,1463.3 1653.7,1462.9 1654.7,1462.5 1655.7,1462.1 1656.7,1461.7 1657.7,1461.3 1658.7,1460.9 1659.7,1460.4 1660.7,1460.0 1661.7,1459.6 1662.7,1459.2 1663.7,1458.8 1664.7,1458.4 1665.7,1457.9 1666.7,1457.5 1667.7,1457.1 1668.7,1456.7 1669.7,1456.2 1670.7,1455.8 1671.7,1455.3 1672.7,1454.9 1673.7,1454.4 1674.7,1454.0 1675.7,1453.5 1676.7,1453.0 1677.7,1452.5 1678.7,1452.0 1679.7,1451.5 1680.7,1450.9 1681.7,1450.4 1682.7,1449.8 1683.7,1449.2 1684.7,1448.6 1685.7,1448.0 1686.7,1447.4 1687.7,1446.7 1688.7,1446.0 1689.7,1445.3 1690.7,1444.6 1691.7,1443.8 1692.7,1443.0 1693.7,1442.2 1694.7,1441.4 1695.7,1440.6 1696.7,1439.8 1697.7,1438.9 1698.7,1438.1 1699.7,1437.2 1700.7,1436.3 1701.7,1435.4 1702.7,1434.5 1703.7,1433.6 1704.7,1432.7 1705.7,1431.8 1706.7,1430.9 1707.7,1430.0 1708.7,1429.1 1709.7,1428.2 1710.7,1427.3 1711.7,1426.4 1712.7,1425.5 1713.7,1424.6 1714.7,1423.7 1715.7,1422.8 1716.7,1421.9 1717.7,1421.0 1718.7,1420.1 1719.7,1419.2 1720.7,1418.3 1721.7,1417.4 1722.7,1416.5 1723.7,1415.6 1724.7,1414.6 1725.7,1413.7 1726.7,1412.7 1727.7,1411.7 1728.7,1410.7 1729.7,1409.7 1730.7,1408.7 1731.7,1407.7 1732.7,1406.6 1733.7,1405.6 1734.7,1404.5 1735.7,1403.4 1736.7,1402.3 1737.7,1401.1 1738.7,1400.0 1739.7,1398.8 1740.7,1397.7 1741.7,1396.4 1742.7,1395.2 1743.7,1394.0 1744.7,1392.7 1745.7,1391.4 1746.7,1390.1 1747.7,1388.8 1748.7,1387.4 1749.7,1386.0 1750.7,1384.6 1751.7,1383.2 1752.7,1381.7 1753.7,1380.2 1754.7,1378.7 1755.7,1377.1 1756.7,1375.6 1757.7,1374.0 1758.7,1372.4 1759.7,1370.8 1760.7,1369.1 1761.7,1367.5 1762.7,1365.9 1763.7,1364.2 1764.7,1362.5 1765.7,1360.8 1766.7,1359.0 1767.7,1357.3 1768.7,1355.5 1769.7,1353.7 1770.7,1351.9 1771.7,1350.0 1772.7,1348.2 1773.7,1346.3 1774.7,1344.5 1775.7,1342.6 1776.7,1340.7 1777.7,1338.8 1778.7,1336.9 1779.7,1334.9 1780.7,1333.0 1781.7,1331.0 1782.7,1329.0 1783.7,1327.0 1784.7,1325.0 1785.7,1323.0 1786.7,1321.0 1787.7,1319.0 1788.7,1316.9 1789.7,1314.9 1790.7,1312.9 1791.7,1310.9 1792.7,1309.0 1793.7,1307.0 1794.7,1305.0 1795.7,1303.0 1796.7,1300.9 1797.7,1298.9 1798.7,1296.8 1799.7,1294.7 1800.7,1292.6 1801.7,1290.5 1802.7,1288.3 1803.7,1286.0 1804.7,1283.7 1805.7,1281.4 1806.7,1279.0 1807.7,1276.4 1808.7,1273.8 1809.7,1271.1 1810.7,1268.4 1811.7,1265.6 1812.7,1262.7 1813.7,1259.7 1814.7,1256.8 1815.7,1253.7 1816.7,1250.7 1817.7,1247.6 1818.7,1244.5 1819.7,1241.5 1820.7,1238.4 1821.7,1235.4 1822.7,1232.4 1823.7,1229.4 1824.7,1226.4 1825.7,1223.5 1826.7,1220.5 1827.7,1217.5 1828.7,1214.5 1829.7,1211.5 1830.7,1208.4 1831.7,1205.3 1832.7,1202.0 1833.7,1198.8 1834.7,1195.5 1835.7,1192.3 1836.7,1189.0 1837.7,1185.9 1838.7,1182.8 1839.7,1179.8 1840.7,1176.8 1841.7,1173.9 1842.7,1171.0 1843.7,1168.1 1844.7,1165.2 1845.7,1162.3 1846.7,1159.4 1847.7,1156.5 1848.7,1153.6 1849.7,1150.6 1850.7,1147.6 1851.7,1144.5 1852.7,1141.3 1853.7,1138.2 1854.7,1135.0 1855.7,1131.7 1856.7,1128.5 1857.7,1125.2 1858.7,1122.0 1859.7,1118.7 1860.7,1115.4 1861.7,1112.1 1862.7,1108.7 1863.7,1105.4 1864.7,1102.0 1865.7,1098.6 1866.7,1095.2 1867.7,1091.7 1868.7,1088.2 1869.7,1084.6 1870.7,1080.9 1871.7,1077.1 1872.7,1073.3 1873.7,1069.4 1874.7,1065.4 1875.7,1061.5 1876.7,1057.6 1877.7,1053.6 1878.7,1049.7 1879.7,1045.7 1880.7,1041.7 1881.7,1037.7 1882.7,1033.7 1883.7,1029.7 1884.7,1025.8 1885.7,1021.9 1886.7,1018.0 1887.7,1014.1 1888.7,1010.3 1889.7,1006.4 1890.7,1002.5 1891.7,998.6 1892.7,994.6 1893.7,990.5 1894.7,986.3 1895.7,982.1 1896.7,977.7 1897.7,973.4 1898.7,969.2 1899.7,965.0 1900.7,961.0 1901.7,957.1 1902.7,953.4 1903.7,949.8 1904.7,946.2 1905.7,942.7 1906.7,939.1 1907.7,935.5 1908.7,931.8 1909.7,928.0 1910.7,924.0 1911.7,919.8 1912.7,915.6 1913.7,911.2 1914.7,906.9 1915.7,902.5 1916.7,898.3 1917.7,894.1 1918.7,889.9 1919.7,885.7 1920.7,881.5 1921.7,877.3 1922.7,873.2 1923.7,869.1 1924.7,865.1 1925.7,861.2 1926.7,857.3 1927.7,853.5 1928.7,849.8 1929.7,846.1 1930.7,842.4 1931.7,838.8 1932.7,835.2 1933.7,831.5 1934.7,827.9 1935.7,824.2 1936.7,820.6 1937.7,817.1 1938.7,813.6 1939.7,810.2 1940.7,806.9 1941.7,803.6 1942.7,800.3 1943.7,797.1 1944.7,793.9 1945.7,790.6 1946.7,787.4 1947.7,784.2 1948.7,780.9 1949.7,777.6 1950.7,774.3 1951.7,771.0 1952.7,767.8 1953.7,764.5 1954.7,761.2 1955.7,757.9 1956.7,754.7 1957.7,751.5 1958.7,748.3 1959.7,745.2 1960.7,742.2 1961.7,739.2 1962.7,736.2 1963.7,733.3 1964.7,730.5 1965.7,727.7 1966.7,724.9 1967.7,722.1 1968.7,719.2 1969.7,716.4 1970.7,713.5 1971.7,710.6 1972.7,707.6 1973.7,704.6 1974.7,701.4 1975.7,698.2 1976.7,694.9 1977.7,691.5 1978.7,688.1 1979.7,684.6 1980.7,681.2 1981.7,677.7 1982.7,674.3 1983.7,670.9 1984.7,667.5 1985.7,664.2 1986.7,661.0 1987.7,657.7 1988.7,654.5 1989.7,651.3 1990.7,648.1 1991.7,645.0 1992.7,641.9 1993.7,638.7 1994.7,635.6 1995.7,632.4 1996.7,629.7 1997.7,626.9 1998.7,624.2 1999.7,621.6 2000.7,618.9 2001.7,616.4 2002.7,613.8 2003.7,611.4 2004.7,609.0 2005.7,606.7 2006.7,604.4 2007.7,602.2 2008.7,600.1 2009.7,598.0 2010.7,596.0 2011.7,594.0 2012.7,592.0 2013.7,590.1 2014.7,588.2 2015.7,586.3 2016.7,584.5 2017.7,582.6 2018.7,580.8 2019.7,579.0 2020.7,577.2 2021.7,575.4 2022.7,573.6 2023.7,571.8 2024.7,570.0 2025.7,568.2 2026.7,566.3 2027.7,564.4 2028.7,562.5 2029.7,560.6 2030.7,558.7 2031.7,556.7 2032.7,554.8 2033.7,552.8 2034.7,550.8 2035.7,548.8 2036.7,546.8 2037.7,544.9 2038.7,542.9 2039.7,541.0 2040.7,539.1 2041.7,537.2 2042.7,535.3 2043.7,533.5 2044.7,531.6 2045.7,529.8 2046.7,528.1 2047.7,526.3 2048.7,524.5 2049.7,522.8 2050.7,521.0 2051.7,519.3 2052.7,517.6 2053.7,515.9 2054.7,514.3 2055.7,512.6 2056.7,510.9 2057.7,509.2 2058.7,507.6 2059.7,505.9 2060.7,504.2 2061.7,502.5 2062.7,500.8 2063.7,499.1 2064.7,497.3 2065.7,495.7 2066.7,494.0 2067.7,492.3 2068.7,490.6 2069.7,489.0 2070.7,487.3 2071.7,485.8 2072.7,484.2 2073.7,482.6 2074.7,481.1 2075.7,479.6 2076.7,478.2 2077.7,476.7 2078.7,475.3 2079.7,473.9 2080.7,472.5 2081.7,471.2 2082.7,469.8 2083.7,468.5 2084.7,467.2 2085.7,465.9 2086.7,464.6 2087.7,463.3 2088.7,462.0 2089.7,460.7 2090.7,459.4 2091.7,458.1 2092.7,456.8 2093.7,455.5 2094.7,454.2 2095.7,453.0 2096.7,451.7 2097.7,450.4 2098.7,449.2 2099.7,447.9 2100.7,446.6 2101.7,445.3 2102.7,444.1 2103.7,442.8 2104.7,441.6 2105.7,440.4 2106.7,439.2 2107.7,437.9 2108.2,437.5" fill="none" stroke="#f98c00" stroke-width="5.8" stroke-dasharray="10.5 22" stroke-dashoffset="1" stroke-linecap="round" stroke-linejoin="round"/>
<path d="M270.7,572.0L271.7,574.5 272.7,576.9 273.7,579.4 274.7,581.8 275.7,584.2 276.7,586.5 277.7,588.8 278.7,591.1 279.7,593.4 280.7,595.7 281.7,598.1 282.7,600.5 283.7,602.9 284.7,605.5 285.7,608.1 286.7,610.7 287.7,613.5 288.7,616.2 289.7,619.1 290.7,621.9 291.7,624.8 292.7,627.8 293.7,630.8 294.7,633.8 295.7,636.8 296.7,639.9 297.7,643.0 298.7,646.2 299.7,649.4 300.7,652.7 301.7,655.9 302.7,659.2 303.7,662.6 304.7,665.9 305.7,669.3 306.7,672.7 307.7,676.1 308.7,679.6 309.7,683.1 310.7,686.6 311.7,690.2 312.7,693.7 313.7,697.3 314.7,700.9 315.7,704.5 316.7,708.2 317.7,711.9 318.7,715.7 319.7,719.4 320.7,723.2 321.7,727.0 322.7,730.8 323.7,734.5 324.7,738.2 325.7,741.9 326.7,745.5 327.7,749.1 328.7,752.6 329.7,756.1 330.7,759.6 331.7,763.0 332.7,766.5 333.7,769.9 334.7,773.4 335.7,776.9 336.7,780.4 337.7,783.9 338.7,787.4 339.7,791.0 340.7,794.5 341.7,798.1 342.7,801.6 343.7,805.1 344.7,808.6 345.7,812.1 346.7,815.4 347.7,818.8 348.7,822.1 349.7,825.4 350.7,828.7 351.7,832.0 352.7,835.2 353.7,838.4 354.7,841.5 355.7,844.7 356.7,847.8 357.7,850.9 358.7,854.0 359.7,857.0 360.7,860.1 361.7,863.1 362.7,866.0 363.7,869.0 364.7,871.9 365.7,874.8 366.7,877.7 367.7,880.6 368.7,883.5 369.7,886.4 370.7,889.3 371.7,892.1 372.7,894.9 373.7,897.7 374.7,900.3 375.7,902.9 376.7,905.4 377.7,907.7 378.7,910.0 379.7,912.2 380.7,914.3 381.7,916.3 382.7,918.3 383.7,920.2 384.7,922.0 385.7,923.8 386.7,925.4 387.7,927.0 388.7,928.5 389.7,929.9 390.7,931.2 391.7,932.5 392.7,933.6 393.7,934.8 394.7,935.9 395.7,937.0 396.7,938.1 397.7,939.2 398.7,940.3 399.7,941.5 400.7,942.6 401.7,943.7 402.7,944.7 403.7,945.6 404.7,946.5 405.7,947.3 406.7,948.1 407.7,948.8 408.7,949.4 409.7,950.0 410.7,950.6 411.7,951.2 412.7,951.7 413.7,952.2 414.7,952.7 415.7,953.2 416.7,953.6 417.7,954.0" fill="none" stroke="#7c0a7c" stroke-width="5.8" stroke-dasharray="10.5 22" stroke-dashoffset="16" stroke-linecap="round" stroke-linejoin="round"/>
<path d="M417.7,954.0L418.7,954.4 419.7,954.8 420.7,955.2 421.7,955.6 422.7,955.9 423.7,956.2 424.7,956.5 425.7,956.8 426.7,957.1 427.7,957.4 428.7,957.7 429.7,958.0 430.7,958.2 431.7,958.4 432.7,958.6 433.7,958.8 434.7,959.0 435.7,959.1 436.7,959.2 437.7,959.3 438.7,959.4 439.7,959.4 440.7,959.4 441.7,959.3 442.7,959.3 443.7,959.1 444.7,959.0 445.7,958.8 446.7,958.6 447.7,958.3 448.7,958.1 449.7,957.8 450.7,957.5 451.7,957.2 452.7,957.0 453.7,956.7 454.7,956.4 455.7,956.1 456.7,955.8 457.7,955.6 458.7,955.3 459.7,955.1 460.7,954.8 461.7,954.6 462.7,954.3 463.7,954.0 464.7,953.8 465.7,953.5 466.7,953.3 467.7,953.0 468.7,952.7 469.7,952.5 470.7,952.3 471.7,952.1 472.7,951.9 473.7,951.7 474.7,951.6 475.7,951.4 476.7,951.2 477.7,951.1 478.7,950.9 479.7,950.8 480.7,950.7 481.7,950.7 482.7,950.7 483.7,950.7 484.7,950.8 485.7,951.0 486.7,951.2 487.7,951.5 488.7,951.9 489.7,952.4 490.7,953.0 491.7,953.6 492.7,954.3 493.7,955.1 494.7,955.9 495.7,956.9 496.7,957.8 497.7,959.0 498.7,960.4 499.7,962.0 500.7,963.7 501.7,965.3 502.7,966.8 503.7,968.3 504.7,969.8 505.7,971.2 506.7,972.7 507.7,974.1 508.7,975.6 509.7,977.0 510.7,978.5 511.7,980.0 512.7,981.5 513.7,983.0 514.7,984.5 515.7,986.1 516.7,987.6 517.7,989.2 518.7,990.9 519.7,992.5 520.7,994.3 521.7,996.1 522.7,998.0 523.7,999.9 524.7,1001.9 525.7,1004.1 526.7,1006.2 527.7,1008.5 528.7,1010.8 529.7,1013.2 530.7,1015.7 531.7,1018.1 532.7,1020.6 533.7,1023.0 534.7,1025.5 535.7,1027.9 536.7,1030.5 537.7,1033.0 538.7,1035.6 539.7,1038.2 540.7,1040.8 541.7,1043.5 542.7,1046.1 543.7,1048.7 544.7,1051.3 545.7,1053.9 546.7,1056.5 547.7,1059.1 548.7,1061.7 549.7,1064.3 550.7,1066.9 551.7,1069.5 552.7,1072.1 553.7,1074.7 554.7,1077.2 555.7,1079.7 556.7,1082.1 557.7,1084.6 558.7,1087.0 559.7,1089.4 560.7,1091.8 561.7,1094.1 562.7,1096.5 563.7,1098.9 564.7,1101.2 565.7,1103.6 566.7,1105.9 567.7,1108.3 568.7,1110.7 569.7,1113.1 570.7,1115.5 571.7,1118.0 572.7,1120.5 573.7,1123.0 574.7,1125.5 575.7,1127.9 576.7,1130.4 577.7,1132.7 578.7,1135.1 579.7,1137.3 580.7,1139.4 581.7,1141.4 582.7,1143.3 583.7,1145.2 584.7,1146.9 585.7,1148.5 586.7,1150.1 587.7,1151.5 588.7,1152.9 589.7,1154.2 590.7,1155.4 591.7,1156.6 592.7,1157.7 593.7,1158.7 594.7,1159.7 595.7,1160.6 596.7,1161.4 597.7,1162.1 598.7,1162.8 599.7,1163.3 600.7,1163.8 601.7,1164.1 602.7,1164.3 603.7,1164.4 604.7,1164.4 605.7,1164.3 606.7,1164.1 607.7,1163.9 608.7,1163.5 609.7,1163.1 610.7,1162.6 611.7,1162.1 612.7,1161.5 613.7,1160.8 614.7,1160.1 615.7,1159.4 616.7,1158.6 617.7,1157.8 618.7,1156.9 619.7,1156.0 620.7,1155.0 621.7,1154.0 622.7,1152.9 623.7,1151.8 624.7,1150.6 625.7,1149.4 626.7,1148.2 627.7,1146.9 628.7,1145.7 629.7,1144.3 630.7,1143.0 631.7,1141.6 632.7,1140.2 633.7,1138.8 634.7,1137.3 635.7,1135.8 636.7,1134.3 637.7,1132.7 638.7,1131.1 639.7,1129.5 640.7,1127.8 641.7,1126.0 642.7,1124.2 643.7,1122.3 644.7,1120.3 645.7,1118.2 646.7,1115.9 647.7,1113.6 648.7,1111.2 649.7,1108.6 650.7,1106.1 651.7,1103.4 652.7,1100.8 653.7,1098.1 654.7,1095.5 655.7,1093.0 656.7,1090.4 657.7,1088.0 658.7,1085.6 659.7,1083.2 660.7,1080.8 661.7,1078.4 662.7,1076.0 663.7,1073.7 664.7,1071.3 665.7,1068.9 666.7,1066.5 667.7,1064.1 668.7,1061.7 669.7,1059.2 670.7,1056.7 671.7,1054.2 672.7,1051.6 673.7,1049.1 674.7,1046.5 675.7,1044.0 676.7,1041.3 677.7,1038.7 678.7,1036.0 679.7,1033.3 680.7,1030.5 681.7,1027.8 682.7,1025.0 683.7,1022.1 684.7,1019.2 685.7,1016.3 686.7,1013.3 687.7,1010.2 688.7,1007.1 689.7,1003.8 690.7,1000.4 691.7,996.9 692.7,993.2 693.7,989.4 694.7,985.5 695.7,981.5 696.7,977.4 697.7,973.4 698.7,969.3 699.7,965.0 700.7,960.6 701.7,956.3 702.7,952.0 703.7,947.8 704.7,943.8 705.7,939.9 706.7,936.2 707.7,932.7 708.7,929.4 709.7,926.1 710.7,922.9 711.7,919.8 712.7,916.7 713.7,913.6 714.7,910.5 715.7,907.5 716.7,904.4 717.7,901.3 718.7,898.1 719.7,894.9 720.7,891.7 721.7,888.5 722.7,885.3 723.7,882.0 724.7,878.8 725.7,875.5 726.7,872.2 727.7,868.9 728.7,865.5 729.7,862.1 730.7,858.6 731.7,855.1 732.7,851.6 733.7,848.1 734.7,844.6 735.7,841.0 736.7,837.5 737.7,833.9 738.7,830.3 739.7,826.6 740.7,822.9 741.7,819.1 742.7,815.3 743.7,811.6 744.7,807.9 745.7,804.3 746.7,800.8 747.7,797.3 748.7,794.0 749.7,790.7 750.7,787.5 751.7,784.4 752.7,781.2 753.7,778.1 754.7,775.1 755.7,772.1 756.7,769.0 757.7,766.1 758.7,763.1 759.7,760.1 760.7,757.2 761.7,754.2 762.7,751.3 763.7,748.4 764.7,745.5 765.7,742.6 766.7,739.8 767.7,737.0 768.7,734.2 769.7,731.6 770.7,729.0 771.7,726.5 772.7,724.0 773.7,721.6 774.7,719.3 775.7,717.0 776.7,714.8 777.7,712.5 778.7,710.3 779.7,708.2 780.7,706.0 781.7,703.8 782.7,701.7 783.7,699.6 784.7,697.4 785.7,695.3 786.7,693.2 787.7,691.0 788.7,688.8 789.7,686.7 790.7,684.5 791.7,682.4 792.7,680.3 793.7,678.2 794.7,676.1 795.7,674.1 796.7,672.1 797.7,670.1 798.7,668.3 799.7,666.4 800.7,664.7 801.7,662.9 802.7,661.2 803.7,659.6 804.7,657.9 805.7,656.3 806.7,654.7 807.7,653.2 808.7,651.6 809.7,650.1 810.7,648.7 811.7,647.3 812.7,645.9 813.7,644.5 814.7,643.3 815.7,642.0 816.7,640.8 817.7,639.6 818.7,638.6 819.7,637.5 820.7,636.5 821.7,635.5 822.7,634.6 823.7,633.7 824.7,632.9 825.7,632.1 826.7,631.4 827.7,630.7 828.7,630.0 829.7,629.4 830.7,628.8 831.7,628.3 832.7,627.7 833.7,627.2 834.7,626.8 835.7,626.3 836.7,625.9 837.7,625.4 838.7,625.1 839.7,624.7 840.7,624.3 841.7,624.0 842.7,623.6 843.7,623.3 844.7,623.1 845.7,622.8 846.7,622.5 847.7,622.3 848.7,622.1 849.7,621.9 850.7,621.7 851.7,621.6 852.7,621.5 853.7,621.3 854.7,621.3 855.7,621.3 856.7,621.2 857.7,621.3 858.7,621.4 859.7,621.5 860.7,621.7 861.7,621.8 862.7,622.1 863.7,622.3 864.7,622.6 865.7,622.9 866.7,623.2 867.7,623.6 868.7,624.0 869.7,624.5 870.7,624.9 871.7,625.4 872.7,625.9 873.7,626.4 874.7,626.9 875.7,627.5 876.7,628.1 877.7,628.6 878.7,629.3 879.7,629.9 880.7,630.6 881.7,631.3 882.7,632.0 883.7,632.8 884.7,633.6 885.7,634.5 886.7,635.3 887.7,636.2 888.7,637.2 889.7,638.1 890.7,639.1 891.7,640.2 892.7,641.3 893.7,642.4 894.7,643.6 895.7,644.8 896.7,646.1 897.7,647.4 898.7,648.7 899.7,650.1 900.7,651.6 901.7,653.0 902.7,654.5 903.7,656.0 904.7,657.4 905.7,658.9 906.7,660.4 907.7,661.9 908.7,663.3 909.7,664.7 910.7,666.1 911.7,667.5 912.7,668.9 913.7,670.3 914.7,671.7 915.7,673.0 916.7,674.4 917.7,675.8 918.7,677.2 919.7,678.5 920.7,679.9 921.7,681.3 922.7,682.7 923.7,684.2 924.7,685.6 925.7,687.1 926.7,688.6 927.7,690.1 928.7,691.6 929.7,693.2 930.7,694.8 931.7,696.5 932.7,698.1 933.7,699.8 934.7,701.4 935.7,703.1 936.7,704.8 937.7,706.5 938.7,708.2 939.7,709.8 940.7,711.5 941.7,713.2 942.7,714.8 943.7,716.4 944.7,718.0 945.7,719.6 946.7,721.2 947.7,722.8 948.7,724.4 949.7,726.0 950.7,727.6 951.7,729.3 952.7,730.9 953.7,732.7 954.7,734.4 955.7,736.3 956.7,738.2 957.7,740.1 958.7,742.1 959.7,744.2 960.7,746.3 961.7,748.5 962.7,750.7 963.7,752.9 964.7,755.1 965.7,757.4 966.7,759.6 967.7,761.8 968.7,764.0 969.7,766.2 970.7,768.4 971.7,770.6 972.7,772.8 973.7,775.0 974.7,777.3 975.7,779.5 976.7,781.7 977.7,784.0 978.7,786.2 979.7,788.4 980.7,790.6 981.7,792.8 982.7,795.0 983.7,797.1 984.7,799.3 985.7,801.5 986.7,803.7 987.7,805.8 988.7,808.0 989.7,810.2 990.7,812.3 991.7,814.5 992.7,816.7 993.7,818.8 994.7,821.0 995.7,823.2 996.7,825.3 997.7,827.5 998.7,829.6 999.7,831.8 1000.7,834.0 1001.7,836.1 1002.7,838.3 1003.7,840.5 1004.7,842.7 1005.7,844.8 1006.7,847.0 1007.7,849.2 1008.7,851.4 1009.7,853.6 1010.7,855.8 1011.7,857.9 1012.7,860.1 1013.7,862.3 1014.7,864.6 1015.7,866.8 1016.7,869.0 1017.7,871.3 1018.7,873.5 1019.7,875.8 1020.7,878.1 1021.7,880.4 1022.7,882.7 1023.7,885.0 1024.7,887.3 1025.7,889.6 1026.7,891.9 1027.7,894.2 1028.7,896.6 1029.7,898.9 1030.7,901.2 1031.7,903.5 1032.7,905.8 1033.7,908.1 1034.7,910.4 1035.7,912.8 1036.7,915.1 1037.7,917.4 1038.7,919.8 1039.7,922.2 1040.7,924.6 1041.7,927.0 1042.7,929.4 1043.7,931.8 1044.7,934.2 1045.7,936.7 1046.7,939.1 1047.7,941.6 1048.7,944.1 1049.7,946.5 1050.7,949.0 1051.7,951.5 1052.7,954.0 1053.7,956.5 1054.7,959.0 1055.7,961.6 1056.7,964.1 1057.7,966.7 1058.7,969.3 1059.7,971.9 1060.7,974.5 1061.7,977.1 1062.7,979.7 1063.7,982.3 1064.7,984.8 1065.7,987.3 1066.7,989.8 1067.7,992.2 1068.7,994.7 1069.7,997.1 1070.7,999.5 1071.7,1002.0 1072.7,1004.4 1073.7,1006.8 1074.7,1009.3 1075.7,1011.7 1076.7,1014.1 1077.7,1016.5 1078.7,1019.0 1079.7,1021.4 1080.7,1023.8 1081.7,1026.2 1082.7,1028.6 1083.7,1031.0 1084.7,1033.4 1085.7,1035.8 1086.7,1038.1 1087.7,1040.5 1088.7,1042.8 1089.7,1045.2 1090.7,1047.5 1091.7,1049.8 1092.7,1052.1 1093.7,1054.3 1094.7,1056.6 1095.7,1058.8 1096.7,1061.1 1097.7,1063.3 1098.7,1065.5 1099.7,1067.6 1100.7,1069.8 1101.7,1072.0 1102.7,1074.1 1103.7,1076.3 1104.7,1078.5 1105.7,1080.6 1106.7,1082.7 1107.7,1084.9 1108.7,1087.0 1109.7,1089.2 1110.7,1091.4 1111.7,1093.5 1112.7,1095.7 1113.7,1097.9 1114.7,1100.1 1115.7,1102.3 1116.7,1104.5 1117.7,1106.8 1118.7,1109.0 1119.7,1111.3 1120.7,1113.6 1121.7,1116.0 1122.7,1118.3 1123.7,1120.7 1124.7,1123.1 1125.7,1125.5 1126.7,1127.9 1127.7,1130.4 1128.7,1132.8 1129.7,1135.2 1130.7,1137.7 1131.7,1140.1 1132.7,1142.6 1133.7,1145.0 1134.7,1147.5 1135.7,1149.9 1136.7,1152.3 1137.7,1154.7 1138.7,1157.0 1139.7,1159.4 1140.7,1161.7 1141.7,1163.9 1142.7,1166.2 1143.7,1168.3 1144.7,1170.5 1145.7,1172.6 1146.7,1174.6 1147.7,1176.6 1148.7,1178.5 1149.7,1180.4 1150.7,1182.2 1151.7,1184.1 1152.7,1185.9 1153.7,1187.6 1154.7,1189.4 1155.7,1191.2 1156.7,1192.9 1157.7,1194.7 1158.7,1196.6 1159.7,1198.4 1160.7,1200.2 1161.7,1202.1 1162.7,1203.9 1163.7,1205.8 1164.7,1207.6 1165.7,1209.5 1166.7,1211.3 1167.7,1213.1 1168.7,1215.0 1169.7,1216.8 1170.7,1218.7 1171.7,1220.5 1172.7,1222.4 1173.7,1224.3 1174.7,1226.3 1175.7,1228.2 1176.7,1230.2 1177.7,1232.2 1178.7,1234.3 1179.7,1236.3 1180.7,1238.4 1181.7,1240.4 1182.7,1242.5 1183.7,1244.5 1184.7,1246.5 1185.7,1248.5 1186.7,1250.5 1187.7,1252.4 1188.7,1254.2 1189.7,1256.1 1190.7,1257.9 1191.7,1259.6 1192.7,1261.4 1193.7,1263.1 1194.7,1264.8 1195.7,1266.4 1196.7,1268.1 1197.7,1269.8 1198.7,1271.5 1199.7,1273.2 1200.7,1274.8 1201.7,1276.5 1202.7,1278.3 1203.7,1280.0 1204.7,1281.8 1205.7,1283.5 1206.7,1285.4 1207.7,1287.2 1208.7,1289.2 1209.7,1291.1 1210.7,1293.1 1211.7,1295.1 1212.7,1297.1 1213.7,1299.1 1214.7,1301.1 1215.7,1303.1 1216.7,1305.1 1217.7,1307.0 1218.7,1308.8 1219.7,1310.6 1220.7,1312.4 1221.7,1314.1 1222.7,1315.8 1223.7,1317.5 1224.7,1319.1 1225.7,1320.7 1226.7,1322.3 1227.7,1323.8 1228.7,1325.4 1229.7,1327.0 1230.7,1328.5 1231.7,1330.0 1232.7,1331.6 1233.7,1333.1 1234.7,1334.7 1235.7,1336.2 1236.7,1337.8 1237.7,1339.3 1238.7,1341.0 1239.7,1342.6 1240.7,1344.2 1241.7,1345.9 1242.7,1347.6 1243.7,1349.3 1244.7,1351.0 1245.7,1352.7 1246.7,1354.3 1247.7,1356.0 1248.7,1357.6 1249.7,1359.2 1250.7,1360.7 1251.7,1362.2 1252.7,1363.7 1253.7,1365.1 1254.7,1366.5 1255.7,1367.8 1256.7,1369.2 1257.7,1370.5 1258.7,1371.7 1259.7,1372.9 1260.7,1374.1 1261.7,1375.3 1262.7,1376.5 1263.7,1377.7 1264.7,1378.8 1265.7,1379.9 1266.7,1381.1 1267.7,1382.2 1268.7,1383.3 1269.7,1384.4 1270.7,1385.5 1271.7,1386.6 1272.7,1387.7 1273.7,1388.8 1274.7,1389.8 1275.7,1390.9 1276.7,1392.0 1277.7,1393.1 1278.7,1394.2 1279.7,1395.2 1280.7,1396.3 1281.7,1397.3 1282.7,1398.4 1283.7,1399.4 1284.7,1400.5 1285.7,1401.5 1286.7,1402.5 1287.7,1403.5 1288.7,1404.5 1289.7,1405.5 1290.7,1406.5 1291.7,1407.5 1292.7,1408.5 1293.7,1409.5 1294.7,1410.5 1295.7,1411.5 1296.7,1412.5 1297.7,1413.5 1298.7,1414.5 1299.7,1415.5 1300.7,1416.5 1301.7,1417.5 1302.7,1418.5 1303.7,1419.5 1304.7,1420.5 1305.7,1421.5 1306.7,1422.5 1307.7,1423.5 1308.7,1424.5 1309.7,1425.5 1310.7,1426.5 1311.7,1427.5 1312.7,1428.5 1313.7,1429.4 1314.7,1430.4 1315.7,1431.4 1316.7,1432.3 1317.7,1433.2 1318.7,1434.2 1319.7,1435.1 1320.7,1436.0 1321.7,1436.9 1322.7,1437.7 1323.7,1438.6 1324.7,1439.4 1325.7,1440.2 1326.7,1441.0 1327.7,1441.8 1328.7,1442.6 1329.7,1443.4 1330.7,1444.1 1331.7,1444.9 1332.7,1445.6 1333.7,1446.3 1334.7,1447.0 1335.7,1447.8 1336.7,1448.5 1337.7,1449.2 1338.7,1449.9 1339.7,1450.6 1340.7,1451.2 1341.7,1451.9 1342.7,1452.6 1343.7,1453.3 1344.7,1454.0 1345.7,1454.7 1346.7,1455.3 1347.7,1456.0 1348.7,1456.7 1349.7,1457.4 1350.7,1458.1 1351.7,1458.8 1352.7,1459.5 1353.7,1460.2 1354.7,1460.9 1355.7,1461.7 1356.7,1462.4 1357.7,1463.1 1358.7,1463.8 1359.7,1464.5 1360.7,1465.2 1361.7,1465.9 1362.7,1466.6 1363.7,1467.2 1364.7,1467.9 1365.7,1468.5 1366.7,1469.2 1367.7,1469.8 1368.7,1470.4 1369.7,1471.0 1370.7,1471.5 1371.7,1472.1 1372.7,1472.6 1373.7,1473.1 1374.7,1473.6 1375.7,1474.1 1376.7,1474.6 1377.7,1475.0 1378.7,1475.4 1379.7,1475.9 1380.7,1476.2 1381.7,1476.6 1382.7,1477.0 1383.7,1477.3 1384.7,1477.7 1385.7,1478.0 1386.7,1478.3 1387.7,1478.7 1388.7,1479.0 1389.7,1479.2 1390.7,1479.5 1391.7,1479.8 1392.7,1480.1 1393.7,1480.4 1394.7,1480.6 1395.7,1480.9 1396.7,1481.1 1397.7,1481.4 1398.7,1481.6 1399.7,1481.9 1400.7,1482.1 1401.7,1482.3 1402.7,1482.6 1403.7,1482.8 1404.7,1483.0 1405.7,1483.2 1406.7,1483.4 1407.7,1483.6 1408.7,1483.8 1409.7,1484.0 1410.7,1484.2 1411.7,1484.4 1412.7,1484.5 1413.7,1484.7 1414.7,1484.9 1415.7,1485.0 1416.7,1485.2 1417.7,1485.3 1418.7,1485.4 1419.7,1485.5 1420.7,1485.7 1421.7,1485.8 1422.7,1485.9 1423.7,1486.0 1424.7,1486.1 1425.7,1486.2 1426.7,1486.3 1427.7,1486.4 1428.7,1486.5 1429.7,1486.6 1430.7,1486.6 1431.7,1486.7 1432.7,1486.8 1433.7,1486.9 1434.7,1487.0 1435.7,1487.1 1436.7,1487.2 1437.7,1487.3 1438.7,1487.4 1439.7,1487.5 1440.7,1487.6 1441.7,1487.7 1442.7,1487.8 1443.7,1487.9 1444.7,1488.0 1445.7,1488.1 1446.7,1488.2 1447.7,1488.3 1448.7,1488.3 1449.7,1488.4 1450.7,1488.5 1451.7,1488.6 1452.7,1488.7 1453.7,1488.8 1454.7,1488.9 1455.7,1489.0 1456.7,1489.0 1457.7,1489.1 1458.7,1489.2 1459.7,1489.3 1460.7,1489.3 1461.7,1489.4 1462.7,1489.5 1463.7,1489.5 1464.7,1489.6 1465.7,1489.7 1466.7,1489.7 1467.7,1489.8 1468.7,1489.8 1469.7,1489.9 1470.7,1489.9 1471.7,1489.9 1472.7,1490.0 1473.7,1490.0 1474.7,1490.1 1475.7,1490.1 1476.7,1490.2 1477.7,1490.2 1478.7,1490.2 1479.7,1490.3 1480.7,1490.3 1481.7,1490.3 1482.7,1490.4 1483.7,1490.4 1484.7,1490.4 1485.7,1490.5 1486.7,1490.5 1487.7,1490.5 1488.7,1490.5 1489.7,1490.6 1490.7,1490.6 1491.7,1490.6 1492.7,1490.6 1493.7,1490.6 1494.7,1490.6 1495.7,1490.6 1496.7,1490.6 1497.7,1490.6 1498.7,1490.5 1499.7,1490.5 1500.7,1490.5 1501.7,1490.4 1502.7,1490.4 1503.7,1490.3 1504.7,1490.2 1505.7,1490.2 1506.7,1490.1 1507.7,1490.0 1508.7,1489.9 1509.7,1489.8 1510.7,1489.7 1511.7,1489.6 1512.7,1489.5 1513.7,1489.4 1514.7,1489.2 1515.7,1489.1 1516.7,1489.0 1517.7,1488.8 1518.7,1488.7 1519.7,1488.5 1520.7,1488.4 1521.7,1488.2 1522.7,1488.1 1523.7,1487.9 1524.7,1487.8 1525.7,1487.6 1526.7,1487.5 1527.7,1487.3 1528.7,1487.1 1529.7,1487.0 1530.7,1486.8 1531.7,1486.7 1532.7,1486.5 1533.7,1486.4 1534.7,1486.2 1535.7,1486.0 1536.7,1485.9 1537.7,1485.7 1538.7,1485.5 1539.7,1485.3 1540.7,1485.1 1541.7,1484.9 1542.7,1484.7 1543.7,1484.6 1544.7,1484.3 1545.7,1484.1 1546.7,1483.9 1547.7,1483.7 1548.7,1483.5 1549.7,1483.3 1550.7,1483.0 1551.7,1482.8 1552.7,1482.6 1553.7,1482.3 1554.7,1482.1 1555.7,1481.8 1556.7,1481.6 1557.7,1481.3 1558.7,1481.1 1559.7,1480.8 1560.7,1480.5 1561.7,1480.2 1562.7,1480.0 1563.7,1479.7 1564.7,1479.4 1565.7,1479.1 1566.7,1478.9 1567.7,1478.6 1568.7,1478.3 1569.7,1478.0 1570.7,1477.7 1571.7,1477.4 1572.7,1477.1 1573.7,1476.8 1574.7,1476.6 1575.7,1476.3 1576.7,1476.0 1577.7,1475.7 1578.7,1475.4 1579.7,1475.1 1580.7,1474.8 1581.7,1474.5 1582.7,1474.2 1583.7,1473.9 1584.7,1473.6 1585.7,1473.3 1586.7,1473.0 1587.7,1472.7 1588.7,1472.4 1589.7,1472.2 1590.7,1471.9 1591.7,1471.6 1592.7,1471.3 1593.7,1471.0 1594.7,1470.7 1595.7,1470.4 1596.7,1470.1 1597.7,1469.9 1598.7,1469.6 1599.7,1469.3 1600.7,1469.0 1601.7,1468.8 1602.7,1468.5 1603.7,1468.2 1604.7,1468.0 1605.7,1467.7 1606.7,1467.4 1607.7,1467.2 1608.7,1466.9 1609.7,1466.6 1610.7,1466.4 1611.7,1466.1 1612.7,1465.9 1613.7,1465.6 1614.7,1465.3 1615.7,1465.0 1616.7,1464.8 1617.7,1464.5 1618.7,1464.2 1619.7,1463.9 1620.7,1463.6 1621.7,1463.4 1622.7,1463.1 1623.7,1462.8 1624.7,1462.5 1625.7,1462.2 1626.7,1461.9 1627.7,1461.5 1628.7,1461.2 1629.7,1460.9 1630.7,1460.6 1631.7,1460.3 1632.7,1460.0 1633.7,1459.7 1634.7,1459.3 1635.7,1459.0 1636.7,1458.7 1637.7,1458.4 1638.7,1458.0 1639.7,1457.7 1640.7,1457.4 1641.7,1457.0 1642.7,1456.7 1643.7,1456.3 1644.7,1456.0 1645.7,1455.6 1646.7,1455.2 1647.7,1454.9 1648.7,1454.5 1649.7,1454.1 1650.7,1453.7 1651.7,1453.3 1652.7,1452.9 1653.7,1452.5 1654.7,1452.1 1655.7,1451.7 1656.7,1451.3 1657.7,1450.8 1658.7,1450.4 1659.7,1450.0 1660.7,1449.5 1661.7,1449.1 1662.7,1448.7 1663.7,1448.2 1664.7,1447.8 1665.7,1447.3 1666.7,1446.9 1667.7,1446.4 1668.7,1446.0 1669.7,1445.5 1670.7,1445.0 1671.7,1444.5 1672.7,1444.0 1673.7,1443.5 1674.7,1443.0 1675.7,1442.5 1676.7,1441.9 1677.7,1441.4 1678.7,1440.8 1679.7,1440.2 1680.7,1439.6 1681.7,1439.0 1682.7,1438.3 1683.7,1437.7 1684.7,1437.0 1685.7,1436.3 1686.7,1435.6 1687.7,1434.8 1688.7,1434.0 1689.7,1433.2 1690.7,1432.4 1691.7,1431.5 1692.7,1430.6 1693.7,1429.7 1694.7,1428.8 1695.7,1427.9 1696.7,1427.0 1697.7,1426.0 1698.7,1425.1 1699.7,1424.1 1700.7,1423.1 1701.7,1422.1 1702.7,1421.2 1703.7,1420.2 1704.7,1419.2 1705.7,1418.2 1706.7,1417.3 1707.7,1416.3 1708.7,1415.3 1709.7,1414.4 1710.7,1413.4 1711.7,1412.5 1712.7,1411.5 1713.7,1410.6 1714.7,1409.6 1715.7,1408.7 1716.7,1407.7 1717.7,1406.8 1718.7,1405.8 1719.7,1404.8 1720.7,1403.9 1721.7,1402.9 1722.7,1401.9 1723.7,1400.9 1724.7,1399.9 1725.7,1398.8 1726.7,1397.8 1727.7,1396.7 1728.7,1395.6 1729.7,1394.5 1730.7,1393.4 1731.7,1392.3 1732.7,1391.1 1733.7,1390.0 1734.7,1388.8 1735.7,1387.6 1736.7,1386.4 1737.7,1385.1 1738.7,1383.9 1739.7,1382.6 1740.7,1381.3 1741.7,1380.0 1742.7,1378.6 1743.7,1377.2 1744.7,1375.9 1745.7,1374.4 1746.7,1373.0 1747.7,1371.5 1748.7,1370.0 1749.7,1368.5 1750.7,1366.9 1751.7,1365.3 1752.7,1363.7 1753.7,1362.0 1754.7,1360.3 1755.7,1358.6 1756.7,1356.9 1757.7,1355.2 1758.7,1353.4 1759.7,1351.7 1760.7,1349.9 1761.7,1348.2 1762.7,1346.4 1763.7,1344.6 1764.7,1342.9 1765.7,1341.1 1766.7,1339.2 1767.7,1337.4 1768.7,1335.6 1769.7,1333.7 1770.7,1331.9 1771.7,1330.0 1772.7,1328.1 1773.7,1326.2 1774.7,1324.3 1775.7,1322.4 1776.7,1320.5 1777.7,1318.6 1778.7,1316.7 1779.7,1314.7 1780.7,1312.8 1781.7,1310.8 1782.7,1308.9 1783.7,1306.9 1784.7,1304.9 1785.7,1303.0 1786.7,1301.0 1787.7,1299.0 1788.7,1296.9 1789.7,1294.9 1790.7,1292.8 1791.7,1290.8 1792.7,1288.7 1793.7,1286.5 1794.7,1284.4 1795.7,1282.2 1796.7,1280.0 1797.7,1277.7 1798.7,1275.5 1799.7,1273.1 1800.7,1270.8 1801.7,1268.4 1802.7,1266.0 1803.7,1263.5 1804.7,1261.0 1805.7,1258.4 1806.7,1255.8 1807.7,1253.1 1808.7,1250.4 1809.7,1247.6 1810.7,1244.7 1811.7,1241.8 1812.7,1238.9 1813.7,1235.9 1814.7,1232.8 1815.7,1229.7 1816.7,1226.5 1817.7,1223.2 1818.7,1219.9 1819.7,1216.6 1820.7,1213.3 1821.7,1210.1 1822.7,1206.8 1823.7,1203.6 1824.7,1200.5 1825.7,1197.4 1826.7,1194.2 1827.7,1191.1 1828.7,1188.0 1829.7,1184.9 1830.7,1181.8 1831.7,1178.6 1832.7,1175.4 1833.7,1172.2 1834.7,1169.0 1835.7,1165.8 1836.7,1162.6 1837.7,1159.4 1838.7,1156.2 1839.7,1153.1 1840.7,1150.0 1841.7,1146.9 1842.7,1143.9 1843.7,1140.8 1844.7,1137.8 1845.7,1134.7 1846.7,1131.7 1847.7,1128.6 1848.7,1125.5 1849.7,1122.4 1850.7,1119.3 1851.7,1116.1 1852.7,1113.0 1853.7,1109.8 1854.7,1106.6 1855.7,1103.4 1856.7,1100.2 1857.7,1096.9 1858.7,1093.7 1859.7,1090.4 1860.7,1087.1 1861.7,1083.8 1862.7,1080.5 1863.7,1077.2 1864.7,1073.8 1865.7,1070.4 1866.7,1067.0 1867.7,1063.6 1868.7,1060.1 1869.7,1056.6 1870.7,1053.0 1871.7,1049.3 1872.7,1045.6 1873.7,1041.8 1874.7,1038.0 1875.7,1034.1 1876.7,1030.3 1877.7,1026.3 1878.7,1022.4 1879.7,1018.4 1880.7,1014.4 1881.7,1010.4 1882.7,1006.3 1883.7,1002.3 1884.7,998.2 1885.7,994.1 1886.7,990.0 1887.7,985.9 1888.7,981.7 1889.7,977.5 1890.7,973.3 1891.7,969.0 1892.7,964.8 1893.7,960.4 1894.7,956.0 1895.7,951.5 1896.7,947.0 1897.7,942.6 1898.7,938.2 1899.7,933.9 1900.7,929.7 1901.7,925.8 1902.7,921.9 1903.7,918.2 1904.7,914.6 1905.7,910.9 1906.7,907.3 1907.7,903.5 1908.7,899.7 1909.7,895.7 1910.7,891.6 1911.7,887.4 1912.7,883.1 1913.7,878.8 1914.7,874.5 1915.7,870.2 1916.7,866.0 1917.7,861.9 1918.7,857.8 1919.7,853.7 1920.7,849.7 1921.7,845.6 1922.7,841.5 1923.7,837.5 1924.7,833.4 1925.7,829.3 1926.7,825.2 1927.7,821.1 1928.7,817.1 1929.7,813.0 1930.7,809.0 1931.7,805.1 1932.7,801.2 1933.7,797.3 1934.7,793.3 1935.7,789.5 1936.7,785.6 1937.7,781.9 1938.7,778.3 1939.7,774.8 1940.7,771.3 1941.7,768.0 1942.7,764.7 1943.7,761.4 1944.7,758.2 1945.7,755.0 1946.7,751.7 1947.7,748.5 1948.7,745.2 1949.7,741.8 1950.7,738.5 1951.7,735.1 1952.7,731.8 1953.7,728.4 1954.7,725.1 1955.7,721.9 1956.7,718.7 1957.7,715.5 1958.7,712.4 1959.7,709.3 1960.7,706.3 1961.7,703.4 1962.7,700.4 1963.7,697.5 1964.7,694.6 1965.7,691.7 1966.7,688.8 1967.7,685.8 1968.7,682.9 1969.7,679.9 1970.7,676.8 1971.7,673.8 1972.7,670.7 1973.7,667.5 1974.7,664.4 1975.7,661.1 1976.7,657.8 1977.7,654.5 1978.7,651.1 1979.7,647.7 1980.7,644.2 1981.7,640.8 1982.7,637.3 1983.7,633.9 1984.7,630.6 1985.7,627.2 1986.7,623.9 1987.7,620.7 1988.7,617.4 1989.7,614.2 1990.7,611.1 1991.7,607.9 1992.7,604.8 1993.7,601.6 1994.7,598.5 1995.7,595.3 1996.7,592.7 1997.7,590.2 1998.7,587.6 1999.7,585.1 2000.7,582.6 2001.7,580.1 2002.7,577.6 2003.7,575.2 2004.7,572.9 2005.7,570.6 2006.7,568.4 2007.7,566.3 2008.7,564.3 2009.7,562.4 2010.7,560.5 2011.7,558.7 2012.7,556.9 2013.7,555.1 2014.7,553.4 2015.7,551.8 2016.7,550.1 2017.7,548.5 2018.7,546.8 2019.7,545.2 2020.7,543.6 2021.7,542.0 2022.7,540.4 2023.7,538.7 2024.7,537.1 2025.7,535.4 2026.7,533.7 2027.7,532.0 2028.7,530.2 2029.7,528.5 2030.7,526.7 2031.7,524.9 2032.7,523.1 2033.7,521.3 2034.7,519.5 2035.7,517.7 2036.7,515.9 2037.7,514.2 2038.7,512.4 2039.7,510.7 2040.7,509.0 2041.7,507.3 2042.7,505.6 2043.7,504.0 2044.7,502.4 2045.7,500.8 2046.7,499.3 2047.7,497.7 2048.7,496.2 2049.7,494.7 2050.7,493.2 2051.7,491.7 2052.7,490.3 2053.7,488.8 2054.7,487.3 2055.7,485.9 2056.7,484.4 2057.7,482.9 2058.7,481.4 2059.7,479.9 2060.7,478.3 2061.7,476.8 2062.7,475.2 2063.7,473.6 2064.7,472.0 2065.7,470.4 2066.7,468.7 2067.7,467.1 2068.7,465.5 2069.7,463.9 2070.7,462.2 2071.7,460.6 2072.7,459.0 2073.7,457.5 2074.7,455.9 2075.7,454.4 2076.7,452.9 2077.7,451.4 2078.7,450.0 2079.7,448.6 2080.7,447.2 2081.7,445.9 2082.7,444.5 2083.7,443.2 2084.7,441.9 2085.7,440.6 2086.7,439.4 2087.7,438.1 2088.7,436.8 2089.7,435.6 2090.7,434.3 2091.7,433.1 2092.7,431.8 2093.7,430.6 2094.7,429.4 2095.7,428.1 2096.7,426.9 2097.7,425.7 2098.7,424.5 2099.7,423.3 2100.7,422.0 2101.7,420.8 2102.7,419.6 2103.7,418.4 2104.7,417.3 2105.7,416.2 2106.7,415.2 2107.7,414.0 2108.2,413.7" fill="none" stroke="#7c0a7c" stroke-width="5.8" stroke-dasharray="10.5 22" stroke-dashoffset="5" stroke-linecap="round" stroke-linejoin="round"/>
<path d="M270.7,572.0L271.7,574.4 272.6,576.7 273.7,579.3 275.2,583.0 277.3,588.0 279.9,593.9 282.6,600.3 285.3,607.0 287.8,613.8 290.4,621.0 292.9,628.5 295.5,636.2 298.1,644.1 300.6,652.4 303.2,660.8 305.7,669.3 308.2,678.0 310.7,686.8 313.3,695.8 315.8,704.9 318.3,714.3 320.9,724.0 323.4,733.6 326.0,743.0 328.6,752.1 331.1,761.0 333.7,769.8 336.2,778.6 338.7,787.5 341.2,796.5 343.8,805.4 346.3,814.1 348.8,822.6 351.4,831.0 353.9,839.2 356.5,847.2 359.1,855.1 361.6,862.8 364.2,870.3 366.7,877.7 369.2,885.0 371.7,892.3 374.3,899.2 376.8,905.6 379.3,911.4 381.9,916.8 384.5,921.6 387.0,926.0 389.5,929.8 392.0,933.0 394.6,935.9 397.1,938.7 399.5,941.5 401.9,944.1 404.4,946.5 407.3,948.8 410.7,951.0 414.5,953.0" fill="none" stroke="#e5106a" stroke-width="5.8" stroke-dasharray="10.5 22" stroke-dashoffset="0" stroke-linecap="round" stroke-linejoin="round"/>
<path d="M414.5,953.0L418.5,954.8 422.6,956.4 426.9,957.8 431.3,959.1 435.8,960.0 440.3,960.3 444.8,959.9 449.4,958.8 453.8,957.6 458.1,956.4 462.2,955.4 466.1,954.3 469.8,953.3 473.4,952.6 476.8,952.0 480.1,951.6 483.2,951.4 486.1,951.8 488.8,952.8 491.4,954.2 493.8,956.0 496.0,958.0 497.7,959.9 499.0,961.8 500.5,964.4 503.0,968.3 507.0,974.1 511.9,981.4 517.0,989.2 521.5,996.7 525.1,1003.8 528.3,1010.9 531.2,1017.9 534.1,1025.0 537.0,1032.1 539.7,1039.2 542.4,1046.2 545.1,1053.3 547.8,1060.3 550.5,1067.3 553.2,1074.4 556.1,1081.6 559.1,1089.0 562.3,1096.4 565.5,1104.0 568.7,1111.5 571.9,1119.3 575.1,1127.3 578.3,1134.9 581.3,1141.4 584.1,1146.5 586.8,1150.7 589.3,1154.1 592.0,1157.0 594.7,1159.5 597.4,1161.6 600.2,1162.9 603.0,1163.5 605.9,1163.2 608.8,1162.1 611.9,1160.3 615.0,1158.0 618.2,1155.2 621.5,1151.7 624.9,1147.7 628.5,1143.0 632.3,1137.6 636.4,1131.4 640.4,1124.8 644.2,1117.8 647.6,1110.4 650.7,1102.4 653.7,1094.3 656.8,1086.4 660.0,1078.8 663.2,1071.3 666.4,1063.8 669.4,1056.5 672.3,1049.3 675.1,1042.2 677.8,1035.2 680.4,1028.1 682.9,1021.1 685.3,1014.0 687.7,1007.0 689.9,999.8 691.9,992.6 693.8,985.4 695.7,977.9 697.7,969.9 699.8,961.2 701.9,952.0 704.1,942.5 706.6,933.0 709.5,923.4 712.6,913.6 715.8,903.9 718.7,894.8 721.3,886.5 723.7,878.8 726.0,871.2 728.4,863.3 730.8,855.0 733.2,846.6 735.7,838.0 738.1,829.4 740.5,820.7 742.8,811.9 745.2,803.0 747.8,794.0 750.7,784.7 753.7,775.3 756.8,765.9 759.9,756.8 762.9,748.0 765.8,739.5 768.8,731.1 772.0,722.9 775.5,714.8 779.1,706.8 782.8,699.0 786.5,691.4 790.1,683.8 793.7,676.4 797.3,669.2 801.1,662.3 805.2,655.6 809.4,649.1 813.7,643.2 818.0,638.1 822.1,634.1 826.2,630.8 830.4,628.2 835.0,626.0 840.2,624.0 845.8,622.4 851.4,621.4 856.8,621.2 861.9,622.0 866.7,623.6 871.5,625.8 876.1,628.4 880.5,631.3 884.8,634.6 888.9,638.5 893.1,643.0 897.3,648.4 901.6,654.5 905.8,660.9 910.0,667.2 914.3,673.2 918.6,679.3 922.9,685.4 927.0,691.4 930.8,697.4 934.4,703.5 937.9,709.5 941.5,715.6 945.2,721.6 948.9,727.6 952.5,733.6 956.0,739.8 959.2,746.2 962.2,752.7 965.1,759.3 968.1,766.0 971.1,772.7 974.2,779.5 977.2,786.3 980.2,793.1 983.2,799.8 986.2,806.4 989.3,813.1 992.3,819.7 995.3,826.3 998.4,833.0 1001.5,839.6 1004.5,846.3 1007.5,852.9 1010.6,859.6 1013.6,866.2 1016.6,873.0 1019.6,879.9 1022.7,886.9 1025.7,893.9 1028.7,901.0 1031.7,908.0 1034.7,915.0 1037.7,922.1 1040.8,929.5 1044.0,937.3 1047.3,945.3 1050.6,953.6 1054.0,962.0 1057.2,970.1 1060.2,978.1 1063.6,987.0 1067.8,997.5 1073.1,1010.4 1079.1,1025.1 1085.5,1040.5 1092.0,1055.6 1098.5,1070.1 1105.3,1084.6 1112.1,1099.2 1118.6,1113.7 1125.0,1128.8 1131.4,1144.4 1137.4,1159.1 1142.9,1171.8 1147.7,1181.7 1152.0,1189.5 1155.9,1196.4 1159.8,1203.3 1163.6,1210.2 1167.2,1216.8 1170.7,1223.2 1174.3,1229.9 1177.9,1237.0 1181.5,1244.3 1185.1,1251.7 1188.9,1259.0 1193.0,1266.3 1197.4,1273.6 1201.7,1280.8 1205.8,1288.0 1209.5,1295.1 1213.0,1302.1 1216.5,1309.1 1220.3,1316.0 1224.4,1322.9 1228.8,1329.6 1233.2,1336.4 1237.6,1343.2 1241.8,1350.1 1245.9,1357.0 1250.2,1363.9 1254.9,1370.6 1260.2,1377.2 1266.0,1383.8 1272.0,1390.3 1277.9,1396.5 1283.7,1402.5 1289.5,1408.3 1295.2,1413.9 1301.0,1419.5 1306.7,1425.1 1312.4,1430.7 1318.1,1436.0 1324.0,1441.1 1330.0,1445.7 1336.0,1450.0 1342.1,1454.2 1348.5,1458.4 1355.0,1462.9 1361.8,1467.6 1368.7,1472.0 1375.9,1475.7 1383.5,1478.6 1391.4,1480.9 1399.5,1482.7 1407.5,1484.3 1415.4,1485.5 1423.4,1486.3 1431.3,1486.9 1439.2,1487.5 1446.9,1488.1 1454.5,1488.7 1462.2,1489.2 1470.0,1489.5 1478.1,1489.7 1486.5,1489.9 1494.8,1489.8 1502.8,1489.3 1510.5,1488.2 1517.9,1486.7 1525.3,1485.0 1532.7,1483.1 1540.1,1481.1 1547.4,1479.0 1554.8,1476.7 1562.5,1474.3 1570.7,1471.6 1579.2,1468.6 1587.7,1465.6 1595.9,1462.9 1603.6,1460.6 1611.0,1458.4 1618.3,1456.4 1625.7,1454.1 1633.2,1451.7 1640.7,1449.2 1648.2,1446.6 1655.5,1443.6 1662.7,1440.4 1669.9,1437.0 1676.9,1433.1 1683.6,1428.7 1690.1,1423.4 1696.3,1417.3 1702.4,1411.0 1708.2,1405.0 1713.8,1399.4 1719.2,1394.0 1724.4,1388.7 1729.3,1383.1 1734.0,1377.4 1738.4,1371.6 1742.6,1365.7 1746.8,1359.4 1750.9,1352.7 1754.8,1345.7 1758.7,1338.6 1762.6,1331.3 1766.6,1323.9 1770.6,1316.3 1774.6,1308.8 1778.4,1301.4 1782.1,1294.3 1785.7,1287.3 1789.1,1280.4 1792.4,1273.4 1795.5,1266.4 1798.4,1259.4 1801.2,1252.2 1804.0,1245.0 1806.7,1237.6 1809.4,1230.0 1812.0,1222.4 1814.5,1214.6 1816.9,1206.7 1819.3,1198.6 1821.6,1190.6 1823.9,1182.7 1826.2,1175.0 1828.6,1167.5 1831.0,1160.1 1833.3,1152.6 1835.6,1145.1 1838.0,1137.6 1840.3,1130.1 1842.7,1122.6 1845.1,1115.1 1847.4,1107.6 1849.8,1100.1 1852.1,1092.6 1854.4,1085.1 1856.7,1077.7 1859.1,1070.2 1861.4,1062.6 1863.8,1054.7 1866.2,1046.7 1868.5,1038.6 1870.8,1030.7 1872.9,1023.0 1874.9,1015.5 1876.9,1008.0 1878.8,1000.6 1880.7,993.2 1882.5,985.9 1884.2,978.5 1886.0,971.0 1887.8,963.4 1889.5,955.8 1891.2,948.0 1893.0,940.0 1894.8,931.7 1896.7,923.1 1898.5,914.5 1900.5,906.0 1902.6,897.7 1904.8,889.5 1906.9,881.4 1909.0,873.3 1910.9,865.2 1912.8,857.2 1914.6,849.2 1916.5,841.4 1918.4,833.8 1920.2,826.4 1922.1,819.0 1924.0,811.4 1925.9,803.5 1927.8,795.5 1929.6,787.4 1931.5,779.5 1933.3,771.8 1935.2,764.3 1937.0,756.9 1939.0,749.4 1941.1,741.9 1943.4,734.4 1945.7,726.9 1948.0,719.4 1950.2,711.9 1952.4,704.5 1954.6,697.0 1957.0,689.4 1959.6,681.6 1962.3,673.6 1965.0,665.5 1967.6,657.7 1970.0,650.1 1972.4,642.7 1974.7,635.3 1977.0,627.7 1979.3,619.8 1981.7,611.8 1984.0,603.7 1986.4,595.8 1988.8,588.2 1991.1,580.7 1993.5,573.3 1995.8,565.8 1999.0,558.2 2002.1,550.6 2005.4,543.0 2008.9,535.8 2012.9,529.0 2017.1,522.5 2021.5,516.1 2025.8,509.5 2030.0,502.7 2034.1,495.8 2038.3,489.0 2042.7,482.3 2047.3,475.9 2052.0,469.7 2056.8,463.5 2061.5,456.9 2066.1,449.8 2070.7,442.5 2075.4,435.1 2080.2,428.0 2085.6,421.0 2091.3,413.9 2096.6,407.5 2100.9,402.5 2103.6,399.4 2105.3,397.6 2106.5,396.5 2108.0,395.0" fill="none" stroke="#e5106a" stroke-width="5.8" stroke-dasharray="10.5 22" stroke-dashoffset="0" stroke-linecap="round" stroke-linejoin="round"/>
<path d="M270.7,1529.0L276.9,1527.6 283.0,1526.2 289.2,1524.9 295.4,1523.5 301.5,1522.1 307.7,1520.7 313.9,1519.1 320.0,1517.5 326.1,1515.8 332.3,1514.0 338.4,1512.1 344.5,1510.2 350.6,1508.2 356.8,1506.2 362.9,1504.1 369.0,1502.0 375.1,1499.8 381.2,1497.6 387.4,1495.3 393.5,1492.9 399.6,1490.5 405.8,1488.0 411.9,1485.5 418.0,1483.0 424.3,1480.4 430.8,1477.6 437.5,1474.8 444.1,1471.9 450.5,1469.0 456.5,1466.2 462.1,1463.5 467.0,1461.0 471.2,1458.7 474.9,1456.5 478.0,1454.5 480.8,1452.5 483.4,1450.5 485.9,1448.5 488.4,1446.3 491.0,1444.0 493.7,1441.5 496.4,1439.0 498.9,1436.4 501.4,1433.8 503.9,1431.0 506.3,1428.1 508.7,1425.1 511.0,1422.0 513.3,1418.7 515.6,1415.1 517.8,1411.5 520.0,1407.7 522.1,1403.9 524.2,1400.1 526.1,1396.5 528.0,1393.0 529.7,1389.7 531.4,1386.5 532.9,1383.4 534.3,1380.3 535.7,1377.3 537.1,1374.2 538.5,1371.1 540.0,1368.0 541.5,1364.8 543.0,1361.5 544.5,1358.3 546.0,1355.0 547.5,1351.7 549.0,1348.5 550.5,1345.2 552.0,1342.0 553.5,1338.9 555.0,1335.8 556.5,1332.7 558.0,1329.7 559.5,1326.6 561.0,1323.5 562.5,1320.3 564.0,1317.0 565.5,1313.6 567.0,1310.1 568.5,1306.6 570.0,1303.0 571.5,1299.3 573.0,1295.6 574.5,1291.8 576.0,1288.0 577.5,1284.0 579.0,1279.9 580.5,1275.6 582.0,1271.3 583.5,1267.0 585.0,1262.9 586.5,1258.8 588.0,1255.0 589.5,1251.4 591.0,1247.9 592.5,1244.6 594.0,1241.4 595.5,1238.2 597.0,1235.1 598.5,1232.1 600.0,1229.0 601.5,1225.9 603.1,1222.9 604.6,1219.9 606.2,1217.0 607.7,1214.1 609.2,1211.3 610.6,1208.6 612.0,1206.0 613.2,1203.5 614.4,1201.2 615.5,1199.1 616.5,1196.9 617.5,1194.8 618.6,1192.7 619.8,1190.4 621.0,1188.0 622.3,1185.4 623.7,1182.7 625.1,1179.9 626.6,1177.1 628.1,1174.2 629.7,1171.4 631.3,1168.7 633.0,1166.0 634.8,1163.4 636.6,1160.8 638.6,1158.3 640.5,1155.8 642.5,1153.3 644.5,1151.0 646.5,1148.7 648.4,1146.5 650.3,1144.4 652.1,1142.5 653.9,1140.7 655.7,1138.9 657.6,1137.2 659.4,1135.5 661.2,1133.8 663.0,1132.0 665.7,1131.1 668.4,1130.1 671.2,1129.1 673.9,1128.2 676.6,1127.2 679.3,1126.3 682.0,1125.5 684.7,1124.7 687.4,1124.0 690.2,1123.5 693.0,1123.0 695.8,1122.6 698.6,1122.1 701.2,1121.6 703.7,1121.1 706.0,1120.5 708.1,1119.8 710.0,1119.1 711.8,1118.4 713.5,1117.6 715.1,1116.8 716.7,1115.9 718.3,1115.0 720.0,1114.0 721.7,1113.0 723.3,1111.9 724.9,1110.8 726.5,1109.7 728.1,1108.4 729.7,1107.1 731.4,1105.6 733.2,1104.0 735.1,1102.2 737.0,1100.2 739.1,1098.1 741.1,1095.9 743.2,1093.6 745.2,1091.3 747.1,1089.1 749.0,1087.0 750.8,1085.0 752.5,1083.0 754.1,1081.0 755.7,1079.0 757.3,1077.0 758.9,1075.0 760.4,1073.0 762.0,1071.0 763.6,1068.9 765.1,1066.8 766.6,1064.7 768.1,1062.6 769.6,1060.4 771.1,1058.3 772.6,1056.1 774.0,1054.0 775.4,1051.9 776.8,1049.8 778.2,1047.7 779.5,1045.6 780.8,1043.4 782.2,1041.3 783.6,1039.2 785.0,1037.0 786.5,1034.8 787.9,1032.5 789.4,1030.3 791.0,1028.0 792.5,1025.7 794.0,1023.5 795.5,1021.2 797.0,1019.0 798.5,1016.8 799.9,1014.7 801.3,1012.6 802.8,1010.4 804.2,1008.3 805.6,1006.2 807.0,1004.1 808.5,1002.0 809.9,1000.0 811.0,998.3 812.2,996.7 813.3,995.1 814.7,993.2 816.2,991.0 818.1,988.3 820.4,985.0 823.2,980.9 826.6,976.0 830.3,970.6 834.2,964.9 838.2,959.0 842.2,953.3 846.0,948.0 849.5,943.2 852.8,938.9 855.9,934.9 858.9,931.1 861.9,927.6 864.8,924.1 867.8,920.7 870.7,917.4 873.7,914.1 876.7,910.8 879.8,907.7 882.8,904.7 885.8,901.7 888.8,898.8 891.9,895.8 894.9,892.9 897.9,889.9 900.9,886.9 903.9,883.9 907.0,880.8 910.0,877.8 913.0,874.8 916.0,871.7 919.1,868.7 922.1,865.7 925.1,862.7 928.1,859.7 931.2,856.6 934.2,853.6 937.2,850.6 940.2,847.6 943.3,844.5 946.3,841.5 949.3,838.5 952.4,835.5 955.4,832.4 958.4,829.4 961.5,826.4 964.5,823.4 967.6,820.3 970.6,817.3 973.6,814.3 976.7,811.2 979.7,808.2 982.7,805.2 985.7,802.2 988.8,799.1 991.8,796.1 994.8,793.1 997.8,790.1 1000.8,787.1 1003.9,784.0 1006.9,781.0 1009.9,778.0 1012.9,775.0 1016.0,771.9 1019.0,768.9 1022.1,765.8 1025.2,762.7 1028.4,759.5 1031.6,756.3 1034.7,753.2 1037.7,750.1 1040.5,747.3 1043.2,744.6 1045.6,742.2 1047.8,740.1 1049.7,738.1 1051.6,736.3 1053.5,734.4 1055.5,732.5 1057.6,730.4 1060.0,728.0 1062.7,725.3 1065.5,722.5 1068.5,719.4 1071.5,716.3 1074.7,713.2 1077.8,710.0 1080.9,707.0 1084.0,704.0 1086.9,701.3 1089.5,698.8 1092.1,696.5 1094.7,694.1 1097.5,691.6 1100.6,688.9 1104.2,685.7 1108.4,682.1 1113.3,677.8 1118.8,673.1 1124.8,667.9 1131.2,662.5 1137.7,656.9 1144.2,651.4 1150.7,646.0 1156.9,641.0 1163.0,636.2 1169.0,631.4 1175.1,626.7 1181.1,622.0 1187.2,617.5 1193.2,613.1 1199.3,608.8 1205.3,604.6 1211.3,600.6 1217.4,596.7 1223.5,593.0 1229.5,589.3 1235.5,585.8 1241.6,582.3 1247.6,578.9 1253.7,575.6 1259.7,572.3 1265.8,569.0 1271.8,565.9 1277.9,562.7 1283.9,559.7 1290.0,556.8 1296.0,554.0 1302.1,551.4 1308.3,548.8 1314.8,546.4 1321.3,544.0 1327.9,541.7 1334.2,539.6 1340.2,537.6 1345.7,535.9 1350.6,534.4 1354.8,533.2 1358.4,532.3 1361.5,531.6 1364.2,531.1 1366.8,530.7 1369.3,530.3 1371.9,530.0 1374.8,529.6 1377.8,529.2 1380.8,528.7 1383.9,528.4 1386.9,528.0 1389.9,527.7 1393.0,527.5 1396.0,527.3 1399.0,527.2 1402.1,527.2 1405.2,527.2 1408.4,527.3 1411.6,527.5 1414.7,527.7 1417.7,527.9 1420.5,528.2 1423.2,528.4 1425.6,528.6 1427.7,528.9 1429.7,529.2 1431.6,529.5 1433.5,529.8 1435.5,530.2 1437.6,530.5 1440.0,530.8 1442.7,531.1 1445.5,531.3 1448.5,531.5 1451.6,531.8 1454.8,532.0 1458.0,532.3 1461.1,532.7 1464.2,533.2 1467.2,533.8 1470.2,534.4 1473.3,535.1 1476.3,535.8 1479.3,536.6 1482.4,537.4 1485.4,538.3 1488.4,539.3 1491.4,540.3 1494.4,541.4 1497.5,542.6 1500.5,543.8 1503.5,545.0 1506.5,546.3 1509.6,547.6 1512.6,549.0 1515.6,550.4 1518.7,551.9 1521.7,553.4 1524.8,554.9 1527.8,556.5 1530.8,558.0 1533.9,559.6 1536.9,561.1 1539.9,562.6 1543.0,564.1 1546.0,565.5 1549.0,567.0 1552.0,568.5 1555.1,570.0 1558.1,571.6 1561.1,573.2 1564.1,574.9 1567.1,576.7 1570.2,578.6 1573.2,580.5 1576.2,582.3 1579.2,584.2 1582.3,586.0 1585.3,587.7 1588.3,589.3 1591.3,590.9 1594.4,592.4 1597.4,593.9 1600.4,595.4 1603.5,596.8 1606.5,598.3 1609.5,599.8 1612.5,601.3 1615.5,602.8 1618.6,604.3 1621.6,605.8 1624.6,607.4 1627.7,608.9 1630.7,610.4 1633.7,611.9 1636.6,613.4 1639.5,614.9 1642.2,616.4 1645.0,618.0 1647.9,619.5 1651.0,621.0 1654.3,622.5 1657.9,624.0 1661.9,625.5 1666.1,627.0 1670.6,628.5 1675.3,630.0 1680.1,631.6 1684.8,633.1 1689.6,634.6 1694.2,636.1 1697.2,634.9 1700.1,633.7 1703.0,632.6 1705.9,631.4 1708.9,630.2 1711.9,629.0 1715.1,627.7 1718.4,626.4 1721.9,625.0 1725.6,623.5 1729.4,622.0 1733.3,620.5 1737.2,618.9 1741.2,617.4 1745.1,615.8 1749.0,614.3 1751.3,609.8 1753.7,605.2 1756.0,600.7 1758.4,596.2 1760.7,591.7 1763.1,587.1 1765.4,582.6 1767.8,578.0 1770.2,573.4 1772.6,568.8 1775.1,564.2 1777.5,559.6 1780.0,555.0 1782.4,550.3 1784.9,545.7 1787.3,541.0 1789.8,536.3 1792.4,531.5 1795.0,526.8 1797.6,522.0 1800.1,517.2 1802.5,512.4 1804.8,507.7 1806.8,503.0 1808.6,498.3 1810.2,493.7 1811.6,489.0 1812.9,484.4 1814.2,479.8 1815.4,475.2 1816.7,470.7 1818.0,466.3 1819.4,462.0 1820.7,457.8 1822.0,453.7 1823.4,449.6 1824.7,445.5 1826.1,441.4 1827.6,437.2 1829.1,432.9 1830.7,428.4 1832.5,423.9 1834.3,419.2 1836.1,414.5 1838.0,409.9 1839.7,405.2 1841.4,400.5 1843.0,396.0 1844.4,391.6 1845.7,387.2 1846.9,382.9 1848.1,378.7 1849.3,374.4 1850.4,370.0 1851.7,365.6 1853.0,361.0 1854.3,356.5 1855.6,352.1 1856.9,347.8 1858.3,343.3 1859.7,338.6 1861.3,333.5 1863.2,327.8 1865.3,321.5 1867.8,314.2 1870.6,306.0 1873.8,297.2 1877.0,288.0 1880.3,278.8 1883.6,269.8 1886.7,261.3 1889.5,253.7 1892.1,246.9 1894.4,240.7 1896.7,235.0 1898.8,229.5 1901.0,224.2 1903.2,218.9 1905.5,213.6 1908.0,208.0 1910.6,202.2 1913.4,196.5 1916.2,190.7 1919.1,184.9 1922.0,179.1 1924.9,173.3 1927.8,167.5 1930.7,161.7 1935.0,157.6 1939.2,153.5 1943.5,149.4 1947.8,145.3 1952.0,141.3 1956.3,137.2 1960.6,133.1 1965.0,129.0 1969.4,124.9 1973.9,120.8 1978.3,116.7 1982.8,112.7 1987.4,108.6 1991.9,104.5 1996.4,100.4 2000.9,96.3 2005.2,96.1 2009.4,95.8 2013.7,95.6 2018.0,95.3 2022.2,95.1 2026.5,94.9 2030.8,94.7 2035.0,94.5 2039.3,94.3 2043.7,94.2 2048.2,94.0 2052.6,93.9 2057.0,93.8 2061.2,93.8 2065.1,93.8 2068.7,93.9 2072.0,94.1 2075.0,94.3 2077.7,94.6 2080.3,95.0 2082.8,95.4 2085.2,95.9 2087.6,96.4 2090.0,97.0 2092.4,97.7 2094.7,98.5 2097.0,99.3 2099.2,100.3 2101.4,101.2 2103.6,102.2 2105.8,103.1 2108.0,104.0" fill="none" stroke="#078507" stroke-width="5.4" stroke-linejoin="round"/>
<path d="M270.7,1528.9L272.7,1528.4 274.7,1527.9 276.7,1527.4 278.7,1527.0 280.7,1526.5 282.7,1526.0 284.7,1525.5 286.7,1525.0 288.7,1524.6 290.7,1524.1 292.7,1523.6 294.7,1523.1 296.7,1522.7 298.7,1522.2 300.7,1521.7 302.7,1521.2 304.7,1520.7 306.7,1520.2 308.7,1519.7 310.7,1519.2 312.7,1518.6 314.7,1518.1 316.7,1517.5 318.7,1517.0 320.7,1516.4 322.7,1515.8 324.7,1515.3 326.7,1514.7 328.7,1514.1 330.7,1513.5 332.7,1512.9 334.7,1512.3 336.7,1511.6 338.7,1511.0 340.7,1510.4 342.7,1509.8 344.7,1509.1 346.7,1508.5 348.7,1507.8 350.7,1507.2 352.7,1506.5 354.7,1505.8 356.7,1505.2 358.7,1504.5 360.7,1503.8 362.7,1503.1 364.7,1502.4 366.7,1501.7 368.7,1501.0 370.7,1500.2 372.7,1499.5 374.7,1498.8 376.7,1498.0 378.7,1497.3 380.7,1496.5 382.7,1495.8 384.7,1495.0 386.7,1494.2 388.7,1493.4 390.7,1492.7 392.7,1491.9 394.7,1491.1 396.7,1490.3 398.7,1489.5 400.7,1488.7 402.7,1487.8 404.7,1487.0 406.7,1486.2 408.7,1485.4 410.7,1484.5 412.7,1483.7 414.7,1482.9 416.7,1482.0 418.7,1481.2 420.7,1480.3 422.7,1479.5 424.7,1478.6 426.7,1477.8 428.7,1476.9 430.7,1476.1 432.7,1475.2 434.7,1474.4 436.7,1473.5 438.7,1472.6 440.7,1471.8 442.7,1470.9 444.7,1470.0 446.7,1469.1 448.7,1468.2 450.7,1467.3 452.7,1466.4 454.7,1465.4 456.7,1464.5 458.7,1463.5 460.7,1462.5 462.7,1461.5 464.7,1460.5 466.7,1459.4 468.7,1458.3 470.7,1457.1 472.7,1455.9 474.7,1454.7 476.7,1453.4 478.7,1452.0 480.7,1450.5 482.7,1448.9 484.7,1447.3 486.7,1445.6 488.7,1443.8 490.7,1442.0 492.7,1440.1 494.7,1438.2 496.7,1436.2 498.7,1434.1 500.7,1431.8 502.7,1429.5 504.7,1427.1 506.7,1424.5 508.7,1421.8 510.7,1418.9 512.7,1415.9 514.7,1412.7 516.7,1409.3 518.7,1405.8 520.7,1402.2 522.7,1398.6 524.7,1394.9 526.7,1391.1 528.7,1387.3 530.7,1383.4 532.7,1379.3 534.7,1375.1 536.7,1370.8 538.7,1366.5 540.7,1362.1 542.7,1357.7 544.7,1353.3 546.7,1348.9 548.7,1344.6 550.7,1340.4 552.7,1336.3 554.7,1332.4 556.7,1328.4 558.7,1324.3 560.7,1320.2 562.7,1315.8 564.7,1311.3 566.7,1306.6 568.7,1301.8 570.7,1296.9 572.7,1291.9 574.7,1286.7 576.7,1281.2 578.7,1275.6 580.7,1269.8 582.7,1264.2 584.7,1258.7 586.7,1253.6 588.7,1248.9 590.7,1244.4 592.7,1240.1 594.7,1235.8 596.7,1231.5 598.7,1227.1 600.7,1222.6 602.7,1218.2 604.7,1213.9 606.7,1209.8 608.7,1205.9 610.7,1202.1 612.7,1198.3 614.7,1194.5 616.7,1190.6 618.7,1186.8 620.7,1183.0 622.7,1179.2 624.7,1175.5 626.7,1171.8 628.7,1168.3 630.7,1165.1 632.7,1162.0 634.7,1159.2 636.7,1156.6 638.7,1154.0 640.7,1151.6 642.7,1149.3 644.7,1146.9 646.7,1144.7 648.7,1142.5 650.7,1140.3 652.7,1138.2 654.7,1136.2 656.7,1134.3 658.7,1132.3 660.7,1130.3 662.7,1128.3 664.7,1127.4 666.7,1126.7 668.7,1126.0 670.7,1125.2 672.7,1124.5 674.7,1123.8 676.7,1123.1 678.7,1122.4 680.7,1121.8 682.7,1121.2 684.7,1120.6 686.7,1120.1 688.7,1119.7 690.7,1119.3 692.7,1119.0 694.7,1118.7 696.7,1118.4 698.7,1118.0 700.7,1117.7 702.7,1117.3 704.7,1116.8 706.7,1116.3 708.7,1115.6 710.7,1114.9 712.7,1114.0 714.7,1113.0 716.7,1111.9 718.7,1110.6 720.7,1109.3 722.7,1107.8 724.7,1106.2 726.7,1104.4 728.7,1102.6 730.7,1100.7 732.7,1098.7 734.7,1096.6 736.7,1094.5 738.7,1092.2 740.7,1089.9 742.7,1087.6 744.7,1085.4 746.7,1083.1 748.7,1080.9 750.7,1078.6 752.7,1076.3 754.7,1073.9 756.7,1071.4 758.7,1068.8 760.7,1066.1 762.7,1063.3 764.7,1060.5 766.7,1057.6 768.7,1054.8 770.7,1051.8 772.7,1048.9 774.7,1045.9 776.7,1042.8 778.7,1039.8 780.7,1036.7 782.7,1033.6 784.7,1030.6 786.7,1027.5 788.7,1024.5 790.7,1021.5 792.7,1018.5 794.7,1015.5 796.7,1012.6 798.7,1009.6 800.7,1006.6 802.7,1003.7 804.7,1000.7 806.7,997.9 808.7,995.0 810.7,992.2 812.7,989.3 814.7,986.4 816.7,983.5 818.7,980.5 820.7,977.5 822.7,974.5 824.7,971.5 826.7,968.5 828.7,965.4 830.7,962.4 832.7,959.3 834.7,956.3 836.7,953.3 838.7,950.3 840.7,947.3 842.7,944.3 844.7,941.4 846.7,938.5 848.7,935.7 850.7,933.0 852.7,930.3 854.7,927.6 856.7,925.0 858.7,922.5 860.7,920.0 862.7,917.5 864.7,915.1 866.7,912.7 868.7,910.3 870.7,908.0 872.7,905.7 874.7,903.4 876.7,901.2 878.7,899.0 880.7,896.9 882.7,894.8 884.7,892.7 886.7,890.7 888.7,888.6 890.7,886.6 892.7,884.6 894.7,882.5 896.7,880.4 898.7,878.4 900.7,876.3 902.7,874.2 904.7,872.1 906.7,870.0 908.7,867.8 910.7,865.7 912.7,863.6 914.7,861.5 916.7,859.5 918.7,857.4 920.7,855.3 922.7,853.2 924.7,851.2 926.7,849.1 928.7,847.1 930.7,845.1 932.7,843.0 934.7,841.0 936.7,839.0 938.7,837.0 940.7,835.0 942.7,832.9 944.7,830.9 946.7,828.8 948.7,826.8 950.7,824.7 952.7,822.7 954.7,820.6 956.7,818.6 958.7,816.5 960.7,814.4 962.7,812.4 964.7,810.3 966.7,808.2 968.7,806.1 970.7,804.0 972.7,801.9 974.7,799.8 976.7,797.7 978.7,795.6 980.7,793.5 982.7,791.4 984.7,789.3 986.7,787.1 988.7,785.0 990.7,782.9 992.7,780.8 994.7,778.7 996.7,776.5 998.7,774.4 1000.7,772.3 1002.7,770.2 1004.7,768.1 1006.7,766.0 1008.7,763.8 1010.7,761.7 1012.7,759.6 1014.7,757.5 1016.7,755.4 1018.7,753.3 1020.7,751.2 1022.7,749.0 1024.7,746.9 1026.7,744.8 1028.7,742.7 1030.7,740.6 1032.7,738.5 1034.7,736.4 1036.7,734.2 1038.7,732.1 1040.7,730.0 1042.7,727.8 1044.7,725.7 1046.7,723.5 1048.7,721.2 1050.7,719.0 1052.7,716.7 1054.7,714.5 1056.7,712.3 1058.7,710.1 1060.7,707.9 1062.7,705.8 1064.7,703.6 1066.7,701.5 1068.7,699.3 1070.7,697.2 1072.7,695.1 1074.7,693.0 1076.7,690.9 1078.7,688.8 1080.7,686.8 1082.7,684.8 1084.7,682.8 1086.7,680.9 1088.7,679.0 1090.7,677.1 1092.7,675.3 1094.7,673.5 1096.7,671.7 1098.7,669.9 1100.7,668.2 1102.7,666.5 1104.7,664.7 1106.7,663.0 1108.7,661.3 1110.7,659.6 1112.7,657.9 1114.7,656.2 1116.7,654.5 1118.7,652.9 1120.7,651.2 1122.7,649.6 1124.7,647.9 1126.7,646.3 1128.7,644.6 1130.7,643.0 1132.7,641.3 1134.7,639.7 1136.7,638.0 1138.7,636.4 1140.7,634.8 1142.7,633.2 1144.7,631.5 1146.7,629.9 1148.7,628.3 1150.7,626.7 1152.7,625.0 1154.7,623.4 1156.7,621.8 1158.7,620.1 1160.7,618.4 1162.7,616.6 1164.7,614.9 1166.7,613.1 1168.7,611.4 1170.7,609.6 1172.7,608.0 1174.7,606.4 1176.7,604.8 1178.7,603.2 1180.7,601.7 1182.7,600.2 1184.7,598.7 1186.7,597.2 1188.7,595.7 1190.7,594.3 1192.7,592.8 1194.7,591.4 1196.7,590.0 1198.7,588.6 1200.7,587.2 1202.7,585.8 1204.7,584.5 1206.7,583.1 1208.7,581.8 1210.7,580.5 1212.7,579.2 1214.7,578.0 1216.7,576.7 1218.7,575.5 1220.7,574.3 1222.7,573.1 1224.7,571.9 1226.7,570.8 1228.7,569.6 1230.7,568.5 1232.7,567.4 1234.7,566.3 1236.7,565.2 1238.7,564.1 1240.7,563.1 1242.7,562.0 1244.7,561.0 1246.7,559.9 1248.7,558.9 1250.7,557.8 1252.7,556.8 1254.7,555.7 1256.7,554.7 1258.7,553.6 1260.7,552.6 1262.7,551.5 1264.7,550.5 1266.7,549.4 1268.7,548.4 1270.7,547.4 1272.7,546.3 1274.7,545.3 1276.7,544.3 1278.7,543.3 1280.7,542.4 1282.7,541.4 1284.7,540.4 1286.7,539.4 1288.7,538.5 1290.7,537.6 1292.7,536.6 1294.7,535.7 1296.7,534.9 1298.7,534.0 1300.7,533.2 1302.7,532.4 1304.7,531.6 1306.7,530.8 1308.7,530.1 1310.7,529.4 1312.7,528.7 1314.7,528.0 1316.7,527.3 1318.7,526.7 1320.7,526.1 1322.7,525.5 1324.7,524.9 1326.7,524.3 1328.7,523.8 1330.7,523.2 1332.7,522.7 1334.7,522.2 1336.7,521.7 1338.7,521.3 1340.7,520.8 1342.7,520.4 1344.7,519.9 1346.7,519.5 1348.7,519.1 1350.7,518.7 1352.7,518.3 1354.7,517.9 1356.7,517.6 1358.7,517.3 1360.7,517.0 1362.7,516.8 1364.7,516.6 1366.7,516.4 1368.7,516.2 1370.7,516.0 1372.7,515.8 1374.7,515.7 1376.7,515.5 1378.7,515.3 1380.7,515.1 1382.7,514.9 1384.7,514.7 1386.7,514.5 1388.7,514.4 1390.7,514.2 1392.7,514.1 1394.7,514.0 1396.7,513.9 1398.7,513.9 1400.7,513.8 1402.7,513.8 1404.7,513.8 1406.7,513.8 1408.7,513.9 1410.7,514.0 1412.7,514.1 1414.7,514.2 1416.7,514.4 1418.7,514.6 1420.7,514.9 1422.7,515.1 1424.7,515.4 1426.7,515.7 1428.7,516.1 1430.7,516.4 1432.7,516.8 1434.7,517.2 1436.7,517.5 1438.7,517.9 1440.7,518.2 1442.7,518.5 1444.7,518.7 1446.7,519.0 1448.7,519.2 1450.7,519.5 1452.7,519.7 1454.7,520.0 1456.7,520.3 1458.7,520.6 1460.7,521.0 1462.7,521.4 1464.7,521.8 1466.7,522.3 1468.7,522.9 1470.7,523.4 1472.7,524.0 1474.7,524.7 1476.7,525.3 1478.7,526.0 1480.7,526.7 1482.7,527.4 1484.7,528.2 1486.7,528.9 1488.7,529.7 1490.7,530.5 1492.7,531.3 1494.7,532.2 1496.7,533.1 1498.7,534.0 1500.7,534.9 1502.7,535.8 1504.7,536.8 1506.7,537.7 1508.7,538.6 1510.7,539.6 1512.7,540.5 1514.7,541.5 1516.7,542.5 1518.7,543.5 1520.7,544.4 1522.7,545.4 1524.7,546.4 1526.7,547.5 1528.7,548.5 1530.7,549.5 1532.7,550.5 1534.7,551.5 1536.7,552.5 1538.7,553.5 1540.7,554.5 1542.7,555.5 1544.7,556.5 1546.7,557.4 1548.7,558.4 1550.7,559.4 1552.7,560.4 1554.7,561.4 1556.7,562.4 1558.7,563.5 1560.7,564.5 1562.7,565.5 1564.7,566.6 1566.7,567.7 1568.7,568.8 1570.7,569.9 1572.7,571.0 1574.7,572.1 1576.7,573.2 1578.7,574.3 1580.7,575.5 1582.7,576.6 1584.7,577.7 1586.7,578.8 1588.7,579.9 1590.7,581.0 1592.7,582.1 1594.7,583.2 1596.7,584.3 1598.7,585.4 1600.7,586.5 1602.7,587.6 1604.7,588.7 1606.7,589.8 1608.7,590.9 1610.7,592.0 1612.7,593.1 1614.7,594.2 1616.7,595.3 1618.7,596.5 1620.7,597.6 1622.7,598.7 1624.7,599.8 1626.7,600.9 1628.7,602.0 1630.7,603.1 1632.7,604.1 1634.7,605.2 1636.7,606.2 1638.7,607.3 1640.7,608.4 1642.7,609.4 1644.7,610.5 1646.7,611.5 1648.7,612.5 1650.7,613.5 1652.7,614.4 1654.7,615.3 1656.7,616.2 1658.7,617.1 1660.7,617.9 1662.7,618.7 1664.7,619.5 1666.7,620.2 1668.7,620.9 1670.7,621.7 1672.7,622.4 1674.7,623.1 1676.7,623.8 1678.7,624.5 1680.7,625.2 1682.7,625.9 1684.7,626.6 1686.7,627.4 1688.7,628.1 1690.7,628.8 1692.7,629.5 1694.7,629.8 1696.7,629.0 1698.7,628.2 1700.7,627.4 1702.7,626.6 1704.7,625.8 1706.7,625.0 1708.7,624.2 1710.7,623.4 1712.7,622.6 1714.7,621.8 1716.7,621.0 1718.7,620.2 1720.7,619.4 1722.7,618.7 1724.7,617.9 1726.7,617.1 1728.7,616.3 1730.7,615.5 1732.7,614.7 1734.7,614.0 1736.7,613.2 1738.7,612.4 1740.7,611.6 1742.7,610.9 1744.7,610.1 1746.7,609.3 1748.7,608.5 1750.7,605.4 1752.7,601.8 1754.7,598.3 1756.7,594.8 1758.7,591.2 1760.7,587.7 1762.7,584.1 1764.7,580.6 1766.7,577.0 1768.7,573.4 1770.7,569.9 1772.7,566.3 1774.7,562.7 1776.7,559.1 1778.7,555.5 1780.7,551.9 1782.7,548.3 1784.7,544.6 1786.7,541.0 1788.7,537.3 1790.7,533.7 1792.7,530.1 1794.7,526.5 1796.7,522.9 1798.7,519.3 1800.7,515.5 1802.7,511.6 1804.7,507.5 1806.7,503.0 1808.7,497.8 1810.7,491.9 1812.7,485.1 1814.7,477.8 1816.7,470.6 1818.7,464.1 1820.7,457.8 1822.7,451.6 1824.7,445.5 1826.7,439.7 1828.7,434.0 1830.7,428.6 1832.7,423.6 1834.7,418.7 1836.7,413.8 1838.7,408.9 1840.7,403.9 1842.7,398.6 1844.7,392.8 1846.7,386.6 1848.7,380.1 1850.7,373.6 1852.7,367.2 1854.7,361.0 1856.7,354.9 1858.7,348.9 1860.7,343.2 1862.7,337.5 1864.7,332.1 1866.7,326.7 1868.7,321.4 1870.7,316.2 1872.7,311.0 1874.7,305.8 1876.7,300.6 1878.7,295.5 1880.7,290.4 1882.7,285.3 1884.7,280.3 1886.7,275.3 1888.7,270.5 1890.7,265.6 1892.7,260.8 1894.7,256.1 1896.7,251.4 1898.7,246.7 1900.7,242.1 1902.7,237.5 1904.7,233.0 1906.7,228.5 1908.7,224.1 1910.7,219.8 1912.7,215.5 1914.7,211.2 1916.7,207.1 1918.7,203.0 1920.7,198.9 1922.7,194.9 1924.7,191.0 1926.7,187.1 1928.7,183.1 1930.7,179.1 1932.7,177.1 1934.7,175.2 1936.7,173.2 1938.7,171.3 1940.7,169.4 1942.7,167.4 1944.7,165.5 1946.7,163.6 1948.7,161.6 1950.7,159.7 1952.7,157.8 1954.7,155.9 1956.7,154.1 1958.7,152.2 1960.7,150.4 1962.7,148.6 1964.7,146.8 1966.7,145.0 1968.7,143.2 1970.7,141.5 1972.7,139.8 1974.7,138.0 1976.7,136.3 1978.7,134.6 1980.7,132.9 1982.7,131.2 1984.7,129.5 1986.7,127.8 1988.7,126.1 1990.7,124.4 1992.7,122.7 1994.7,121.0 1996.7,119.3 1998.7,117.6 2000.7,115.9 2002.7,115.7 2004.7,115.6 2006.7,115.6 2008.7,115.6 2010.7,115.5 2012.7,115.5 2014.7,115.5 2016.7,115.4 2018.7,115.4 2020.7,115.4 2022.7,115.3 2024.7,115.3 2026.7,115.3 2028.7,115.3 2030.7,115.2 2032.7,115.2 2034.7,115.2 2036.7,115.2 2038.7,115.2 2040.7,115.2 2042.7,115.2 2044.7,115.2 2046.7,115.2 2048.7,115.2 2050.7,115.2 2052.7,115.2 2054.7,115.2 2056.7,115.2 2058.7,115.3 2060.7,115.3 2062.7,115.4 2064.7,115.4 2066.7,115.5 2068.7,115.6 2070.7,115.7 2072.7,115.9 2074.7,116.1 2076.7,116.2 2078.7,116.5 2080.7,116.7 2082.7,117.0 2084.7,117.3 2086.7,117.6 2088.7,118.0 2090.7,118.3 2092.7,118.8 2094.7,119.2 2096.7,119.7 2098.7,120.2 2100.7,120.8 2102.7,121.3 2104.7,121.9 2106.7,122.4 2108.2,122.8" fill="none" stroke="#f98c00" stroke-width="5.4" stroke-linejoin="round"/>
<path d="M270.7,1528.8L272.7,1528.3 274.7,1527.8 276.7,1527.3 278.7,1526.8 280.7,1526.3 282.7,1525.8 284.7,1525.3 286.7,1524.8 288.7,1524.3 290.7,1523.8 292.7,1523.2 294.7,1522.7 296.7,1522.2 298.7,1521.7 300.7,1521.2 302.7,1520.7 304.7,1520.2 306.7,1519.6 308.7,1519.1 310.7,1518.5 312.7,1518.0 314.7,1517.4 316.7,1516.9 318.7,1516.3 320.7,1515.7 322.7,1515.1 324.7,1514.5 326.7,1513.9 328.7,1513.3 330.7,1512.7 332.7,1512.1 334.7,1511.5 336.7,1510.8 338.7,1510.2 340.7,1509.6 342.7,1508.9 344.7,1508.3 346.7,1507.6 348.7,1507.0 350.7,1506.3 352.7,1505.7 354.7,1505.0 356.7,1504.3 358.7,1503.6 360.7,1502.9 362.7,1502.2 364.7,1501.5 366.7,1500.8 368.7,1500.1 370.7,1499.3 372.7,1498.6 374.7,1497.8 376.7,1497.1 378.7,1496.3 380.7,1495.6 382.7,1494.8 384.7,1494.0 386.7,1493.2 388.7,1492.4 390.7,1491.6 392.7,1490.8 394.7,1490.0 396.7,1489.2 398.7,1488.4 400.7,1487.5 402.7,1486.7 404.7,1485.9 406.7,1485.0 408.7,1484.2 410.7,1483.3 412.7,1482.5 414.7,1481.7 416.7,1480.8 418.7,1480.0 420.7,1479.1 422.7,1478.3 424.7,1477.4 426.7,1476.6 428.7,1475.7 430.7,1474.8 432.7,1474.0 434.7,1473.1 436.7,1472.2 438.7,1471.4 440.7,1470.5 442.7,1469.6 444.7,1468.7 446.7,1467.8 448.7,1466.9 450.7,1466.0 452.7,1465.1 454.7,1464.1 456.7,1463.2 458.7,1462.2 460.7,1461.2 462.7,1460.2 464.7,1459.1 466.7,1458.0 468.7,1456.9 470.7,1455.7 472.7,1454.5 474.7,1453.2 476.7,1451.8 478.7,1450.4 480.7,1448.8 482.7,1447.2 484.7,1445.5 486.7,1443.8 488.7,1442.0 490.7,1440.2 492.7,1438.3 494.7,1436.3 496.7,1434.2 498.7,1432.0 500.7,1429.7 502.7,1427.3 504.7,1424.7 506.7,1422.0 508.7,1419.2 510.7,1416.2 512.7,1413.0 514.7,1409.6 516.7,1406.1 518.7,1402.5 520.7,1398.8 522.7,1395.1 524.7,1391.4 526.7,1387.7 528.7,1383.8 530.7,1379.8 532.7,1375.7 534.7,1371.5 536.7,1367.3 538.7,1363.0 540.7,1358.6 542.7,1354.1 544.7,1349.6 546.7,1345.2 548.7,1341.0 550.7,1336.9 552.7,1333.0 554.7,1329.1 556.7,1325.2 558.7,1321.2 560.7,1317.0 562.7,1312.5 564.7,1307.9 566.7,1303.2 568.7,1298.4 570.7,1293.4 572.7,1288.3 574.7,1282.9 576.7,1277.3 578.7,1271.5 580.7,1265.7 582.7,1260.1 584.7,1254.8 586.7,1249.9 588.7,1245.4 590.7,1241.0 592.7,1236.8 594.7,1232.5 596.7,1228.2 598.7,1223.5 600.7,1218.7 602.7,1213.8 604.7,1209.1 606.7,1204.8 608.7,1200.8 610.7,1196.9 612.7,1193.2 614.7,1189.6 616.7,1185.9 618.7,1182.2 620.7,1178.5 622.7,1174.8 624.7,1171.2 626.7,1167.8 628.7,1164.5 630.7,1161.3 632.7,1158.5 634.7,1155.8 636.7,1153.2 638.7,1150.8 640.7,1148.6 642.7,1146.3 644.7,1144.0 646.7,1141.8 648.7,1139.6 650.7,1137.5 652.7,1135.4 654.7,1133.4 656.7,1131.4 658.7,1129.4 660.7,1127.3 662.7,1125.3 664.7,1124.4 666.7,1123.6 668.7,1122.9 670.7,1122.2 672.7,1121.4 674.7,1120.7 676.7,1120.0 678.7,1119.3 680.7,1118.7 682.7,1118.1 684.7,1117.5 686.7,1117.0 688.7,1116.6 690.7,1116.2 692.7,1115.9 694.7,1115.6 696.7,1115.3 698.7,1115.0 700.7,1114.6 702.7,1114.3 704.7,1113.8 706.7,1113.2 708.7,1112.6 710.7,1111.8 712.7,1111.0 714.7,1110.0 716.7,1108.8 718.7,1107.5 720.7,1106.0 722.7,1104.4 724.7,1102.5 726.7,1100.6 728.7,1098.5 730.7,1096.4 732.7,1094.3 734.7,1092.1 736.7,1089.8 738.7,1087.5 740.7,1085.1 742.7,1082.7 744.7,1080.4 746.7,1078.2 748.7,1075.9 750.7,1073.7 752.7,1071.4 754.7,1069.0 756.7,1066.5 758.7,1063.8 760.7,1061.1 762.7,1058.2 764.7,1055.3 766.7,1052.4 768.7,1049.5 770.7,1046.5 772.7,1043.5 774.7,1040.5 776.7,1037.5 778.7,1034.4 780.7,1031.4 782.7,1028.4 784.7,1025.3 786.7,1022.3 788.7,1019.3 790.7,1016.3 792.7,1013.3 794.7,1010.3 796.7,1007.3 798.7,1004.3 800.7,1001.4 802.7,998.4 804.7,995.6 806.7,992.7 808.7,989.9 810.7,987.1 812.7,984.2 814.7,981.3 816.7,978.3 818.7,975.2 820.7,972.1 822.7,969.0 824.7,966.0 826.7,962.9 828.7,959.7 830.7,956.6 832.7,953.5 834.7,950.3 836.7,947.2 838.7,944.1 840.7,941.1 842.7,938.0 844.7,935.0 846.7,932.1 848.7,929.2 850.7,926.4 852.7,923.6 854.7,921.0 856.7,918.3 858.7,915.7 860.7,913.1 862.7,910.6 864.7,908.1 866.7,905.7 868.7,903.3 870.7,900.8 872.7,898.5 874.7,896.1 876.7,893.8 878.7,891.6 880.7,889.4 882.7,887.2 884.7,885.1 886.7,882.9 888.7,880.8 890.7,878.7 892.7,876.6 894.7,874.5 896.7,872.4 898.7,870.2 900.7,868.0 902.7,865.8 904.7,863.7 906.7,861.5 908.7,859.3 910.7,857.1 912.7,854.9 914.7,852.8 916.7,850.6 918.7,848.5 920.7,846.3 922.7,844.2 924.7,842.1 926.7,840.0 928.7,838.0 930.7,835.9 932.7,833.9 934.7,831.8 936.7,829.8 938.7,827.8 940.7,825.7 942.7,823.7 944.7,821.6 946.7,819.5 948.7,817.4 950.7,815.3 952.7,813.2 954.7,811.1 956.7,809.0 958.7,806.9 960.7,804.8 962.7,802.6 964.7,800.5 966.7,798.4 968.7,796.2 970.7,794.0 972.7,791.9 974.7,789.7 976.7,787.5 978.7,785.3 980.7,783.1 982.7,780.9 984.7,778.7 986.7,776.5 988.7,774.2 990.7,772.0 992.7,769.8 994.7,767.6 996.7,765.4 998.7,763.2 1000.7,761.0 1002.7,758.8 1004.7,756.6 1006.7,754.4 1008.7,752.2 1010.7,750.0 1012.7,747.8 1014.7,745.6 1016.7,743.4 1018.7,741.2 1020.7,739.0 1022.7,736.8 1024.7,734.6 1026.7,732.4 1028.7,730.2 1030.7,728.0 1032.7,725.8 1034.7,723.6 1036.7,721.4 1038.7,719.2 1040.7,717.0 1042.7,714.7 1044.7,712.4 1046.7,710.1 1048.7,707.6 1050.7,705.2 1052.7,702.7 1054.7,700.3 1056.7,697.9 1058.7,695.5 1060.7,693.2 1062.7,691.0 1064.7,688.7 1066.7,686.5 1068.7,684.2 1070.7,682.0 1072.7,679.8 1074.7,677.6 1076.7,675.5 1078.7,673.4 1080.7,671.3 1082.7,669.2 1084.7,667.2 1086.7,665.3 1088.7,663.4 1090.7,661.5 1092.7,659.6 1094.7,657.8 1096.7,656.0 1098.7,654.3 1100.7,652.5 1102.7,650.8 1104.7,649.1 1106.7,647.4 1108.7,645.7 1110.7,644.0 1112.7,642.3 1114.7,640.7 1116.7,639.1 1118.7,637.4 1120.7,635.8 1122.7,634.3 1124.7,632.7 1126.7,631.1 1128.7,629.5 1130.7,627.9 1132.7,626.3 1134.7,624.7 1136.7,623.1 1138.7,621.5 1140.7,619.9 1142.7,618.3 1144.7,616.7 1146.7,615.2 1148.7,613.6 1150.7,612.0 1152.7,610.3 1154.7,608.7 1156.7,607.0 1158.7,605.3 1160.7,603.5 1162.7,601.6 1164.7,599.7 1166.7,597.8 1168.7,596.0 1170.7,594.1 1172.7,592.4 1174.7,590.7 1176.7,589.1 1178.7,587.5 1180.7,586.0 1182.7,584.4 1184.7,583.0 1186.7,581.5 1188.7,580.0 1190.7,578.6 1192.7,577.1 1194.7,575.7 1196.7,574.3 1198.7,572.9 1200.7,571.6 1202.7,570.2 1204.7,568.8 1206.7,567.5 1208.7,566.2 1210.7,564.9 1212.7,563.7 1214.7,562.4 1216.7,561.2 1218.7,560.0 1220.7,558.8 1222.7,557.7 1224.7,556.5 1226.7,555.4 1228.7,554.3 1230.7,553.2 1232.7,552.1 1234.7,551.1 1236.7,550.0 1238.7,549.0 1240.7,548.0 1242.7,547.0 1244.7,546.0 1246.7,545.0 1248.7,544.0 1250.7,543.1 1252.7,542.0 1254.7,541.0 1256.7,540.0 1258.7,539.0 1260.7,538.0 1262.7,536.9 1264.7,535.9 1266.7,534.9 1268.7,533.8 1270.7,532.8 1272.7,531.8 1274.7,530.8 1276.7,529.9 1278.7,528.9 1280.7,527.9 1282.7,527.0 1284.7,526.0 1286.7,525.0 1288.7,524.1 1290.7,523.2 1292.7,522.3 1294.7,521.4 1296.7,520.5 1298.7,519.7 1300.7,518.9 1302.7,518.1 1304.7,517.4 1306.7,516.6 1308.7,515.9 1310.7,515.3 1312.7,514.6 1314.7,514.0 1316.7,513.4 1318.7,512.8 1320.7,512.3 1322.7,511.8 1324.7,511.3 1326.7,510.8 1328.7,510.3 1330.7,509.9 1332.7,509.5 1334.7,509.1 1336.7,508.8 1338.7,508.4 1340.7,508.1 1342.7,507.8 1344.7,507.5 1346.7,507.3 1348.7,507.0 1350.7,506.8 1352.7,506.5 1354.7,506.3 1356.7,506.1 1358.7,506.0 1360.7,505.8 1362.7,505.7 1364.7,505.6 1366.7,505.5 1368.7,505.4 1370.7,505.3 1372.7,505.2 1374.7,505.1 1376.7,504.9 1378.7,504.8 1380.7,504.7 1382.7,504.5 1384.7,504.4 1386.7,504.3 1388.7,504.1 1390.7,504.0 1392.7,503.9 1394.7,503.8 1396.7,503.8 1398.7,503.7 1400.7,503.7 1402.7,503.6 1404.7,503.6 1406.7,503.6 1408.7,503.6 1410.7,503.7 1412.7,503.8 1414.7,504.0 1416.7,504.2 1418.7,504.4 1420.7,504.7 1422.7,505.1 1424.7,505.4 1426.7,505.8 1428.7,506.2 1430.7,506.6 1432.7,507.0 1434.7,507.4 1436.7,507.8 1438.7,508.2 1440.7,508.6 1442.7,508.9 1444.7,509.2 1446.7,509.6 1448.7,509.9 1450.7,510.2 1452.7,510.5 1454.7,510.8 1456.7,511.2 1458.7,511.6 1460.7,512.1 1462.7,512.6 1464.7,513.1 1466.7,513.7 1468.7,514.4 1470.7,515.0 1472.7,515.8 1474.7,516.5 1476.7,517.3 1478.7,518.1 1480.7,518.9 1482.7,519.8 1484.7,520.6 1486.7,521.5 1488.7,522.4 1490.7,523.3 1492.7,524.2 1494.7,525.1 1496.7,526.1 1498.7,527.1 1500.7,528.1 1502.7,529.1 1504.7,530.1 1506.7,531.1 1508.7,532.1 1510.7,533.1 1512.7,534.1 1514.7,535.1 1516.7,536.1 1518.7,537.1 1520.7,538.1 1522.7,539.1 1524.7,540.0 1526.7,541.0 1528.7,542.0 1530.7,543.0 1532.7,544.0 1534.7,545.0 1536.7,546.0 1538.7,547.0 1540.7,548.0 1542.7,549.0 1544.7,550.0 1546.7,551.0 1548.7,552.0 1550.7,553.0 1552.7,554.0 1554.7,555.0 1556.7,556.0 1558.7,557.0 1560.7,558.0 1562.7,559.0 1564.7,560.0 1566.7,561.0 1568.7,562.0 1570.7,563.0 1572.7,564.0 1574.7,565.1 1576.7,566.1 1578.7,567.1 1580.7,568.2 1582.7,569.2 1584.7,570.3 1586.7,571.4 1588.7,572.5 1590.7,573.7 1592.7,574.9 1594.7,576.0 1596.7,577.2 1598.7,578.4 1600.7,579.7 1602.7,580.9 1604.7,582.1 1606.7,583.3 1608.7,584.5 1610.7,585.6 1612.7,586.8 1614.7,588.0 1616.7,589.2 1618.7,590.4 1620.7,591.6 1622.7,592.8 1624.7,594.0 1626.7,595.2 1628.7,596.3 1630.7,597.5 1632.7,598.6 1634.7,599.7 1636.7,600.8 1638.7,601.8 1640.7,602.9 1642.7,603.9 1644.7,604.9 1646.7,605.9 1648.7,606.9 1650.7,607.9 1652.7,608.9 1654.7,609.8 1656.7,610.7 1658.7,611.6 1660.7,612.4 1662.7,613.3 1664.7,614.1 1666.7,614.9 1668.7,615.7 1670.7,616.4 1672.7,617.2 1674.7,618.0 1676.7,618.7 1678.7,619.5 1680.7,620.2 1682.7,621.0 1684.7,621.8 1686.7,622.5 1688.7,623.3 1690.7,624.1 1692.7,624.9 1694.7,625.3 1696.7,624.4 1698.7,623.6 1700.7,622.8 1702.7,622.0 1704.7,621.2 1706.7,620.4 1708.7,619.6 1710.7,618.8 1712.7,618.0 1714.7,617.2 1716.7,616.4 1718.7,615.6 1720.7,614.9 1722.7,614.1 1724.7,613.3 1726.7,612.5 1728.7,611.7 1730.7,611.0 1732.7,610.2 1734.7,609.4 1736.7,608.7 1738.7,607.9 1740.7,607.1 1742.7,606.3 1744.7,605.6 1746.7,604.8 1748.7,604.0 1750.7,601.1 1752.7,597.8 1754.7,594.5 1756.7,591.3 1758.7,588.0 1760.7,584.7 1762.7,581.4 1764.7,578.0 1766.7,574.7 1768.7,571.3 1770.7,567.9 1772.7,564.5 1774.7,561.1 1776.7,557.6 1778.7,554.2 1780.7,550.7 1782.7,547.2 1784.7,543.6 1786.7,540.0 1788.7,536.5 1790.7,533.0 1792.7,529.5 1794.7,526.0 1796.7,522.5 1798.7,518.9 1800.7,515.2 1802.7,511.3 1804.7,507.2 1806.7,502.8 1808.7,497.7 1810.7,491.8 1812.7,485.0 1814.7,477.7 1816.7,470.6 1818.7,464.1 1820.7,457.8 1822.7,451.6 1824.7,445.4 1826.7,439.6 1828.7,434.0 1830.7,428.7 1832.7,423.8 1834.7,419.1 1836.7,414.4 1838.7,409.7 1840.7,404.9 1842.7,399.9 1844.7,394.5 1846.7,388.8 1848.7,383.0 1850.7,377.1 1852.7,371.2 1854.7,365.4 1856.7,359.8 1858.7,354.3 1860.7,349.0 1862.7,343.8 1864.7,338.8 1866.7,333.8 1868.7,328.9 1870.7,324.0 1872.7,319.1 1874.7,314.3 1876.7,309.5 1878.7,304.7 1880.7,300.0 1882.7,295.3 1884.7,290.7 1886.7,286.1 1888.7,281.6 1890.7,277.1 1892.7,272.7 1894.7,268.3 1896.7,263.9 1898.7,259.5 1900.7,255.1 1902.7,250.7 1904.7,246.3 1906.7,241.9 1908.7,237.5 1910.7,233.2 1912.7,228.8 1914.7,224.5 1916.7,220.3 1918.7,216.1 1920.7,212.0 1922.7,208.0 1924.7,204.1 1926.7,200.2 1928.7,196.3 1930.7,192.4 1932.7,190.2 1934.7,188.3 1936.7,186.3 1938.7,184.3 1940.7,182.3 1942.7,180.3 1944.7,178.3 1946.7,176.2 1948.7,174.2 1950.7,172.2 1952.7,170.2 1954.7,168.2 1956.7,166.2 1958.7,164.3 1960.7,162.4 1962.7,160.4 1964.7,158.5 1966.7,156.6 1968.7,154.8 1970.7,152.9 1972.7,151.1 1974.7,149.2 1976.7,147.4 1978.7,145.5 1980.7,143.7 1982.7,141.9 1984.7,140.0 1986.7,138.2 1988.7,136.3 1990.7,134.5 1992.7,132.6 1994.7,130.8 1996.7,128.9 1998.7,127.0 2000.7,125.1 2002.7,124.7 2004.7,124.5 2006.7,124.3 2008.7,124.1 2010.7,123.9 2012.7,123.7 2014.7,123.4 2016.7,123.2 2018.7,123.0 2020.7,122.8 2022.7,122.6 2024.7,122.4 2026.7,122.3 2028.7,122.1 2030.7,121.9 2032.7,121.8 2034.7,121.6 2036.7,121.5 2038.7,121.4 2040.7,121.3 2042.7,121.2 2044.7,121.1 2046.7,121.0 2048.7,120.9 2050.7,120.9 2052.7,120.8 2054.7,120.8 2056.7,120.8 2058.7,120.9 2060.7,120.9 2062.7,121.0 2064.7,121.1 2066.7,121.1 2068.7,121.3 2070.7,121.4 2072.7,121.5 2074.7,121.7 2076.7,121.9 2078.7,122.1 2080.7,122.3 2082.7,122.6 2084.7,122.9 2086.7,123.2 2088.7,123.5 2090.7,123.8 2092.7,124.2 2094.7,124.6 2096.7,125.0 2098.7,125.5 2100.7,126.0 2102.7,126.4 2104.7,126.9 2106.7,127.3 2108.2,127.6" fill="none" stroke="#7c0a7c" stroke-width="5.4" stroke-linejoin="round"/>
<path d="M270.7,1528.8L276.7,1527.2 282.6,1525.7 288.6,1524.2 294.5,1522.7 300.5,1521.2 306.4,1519.6 312.4,1517.9 318.4,1516.2 324.4,1514.4 330.5,1512.6 336.5,1510.7 342.6,1508.8 348.7,1506.8 354.8,1504.8 360.8,1502.7 366.9,1500.5 373.0,1498.3 379.0,1496.0 385.1,1493.6 391.1,1491.2 397.2,1488.7 403.2,1486.2 409.3,1483.7 415.3,1481.1 421.5,1478.5 428.0,1475.7 434.5,1472.9 441.0,1470.0 447.3,1467.2 453.3,1464.5 458.8,1461.8 463.7,1459.3 467.9,1457.0 471.6,1454.8 474.8,1452.8 477.6,1450.8 480.2,1448.8 482.8,1446.8 485.3,1444.6 487.9,1442.3 490.6,1439.9 493.1,1437.4 495.6,1434.8 498.1,1432.2 500.4,1429.5 502.7,1426.7 505.0,1423.7 507.3,1420.6 509.6,1417.3 511.8,1413.7 514.0,1410.0 516.2,1406.2 518.3,1402.4 520.4,1398.6 522.3,1395.0 524.2,1391.5 525.9,1388.3 527.6,1385.2 529.1,1382.2 530.6,1379.2 532.0,1376.3 533.4,1373.4 534.8,1370.4 536.3,1367.3 537.8,1364.1 539.3,1360.8 540.8,1357.4 542.3,1354.0 543.9,1350.6 545.4,1347.2 546.9,1343.9 548.4,1340.7 549.9,1337.6 551.4,1334.6 553.0,1331.6 554.5,1328.7 556.0,1325.8 557.6,1322.8 559.1,1319.6 560.6,1316.4 562.1,1313.0 563.6,1309.6 565.1,1306.1 566.7,1302.5 568.2,1298.8 569.7,1295.1 571.2,1291.3 572.7,1287.4 574.2,1283.3 575.7,1279.1 577.2,1274.7 578.8,1270.3 580.3,1265.9 581.8,1261.6 583.3,1257.4 584.8,1253.5 586.3,1249.8 587.9,1246.2 589.5,1242.8 591.0,1239.5 592.6,1236.2 594.1,1233.0 595.5,1230.0 596.9,1226.9 598.2,1223.9 599.4,1221.0 600.5,1218.2 601.6,1215.5 602.7,1212.8 603.7,1210.2 604.8,1207.6 606.0,1205.0 607.2,1202.5 608.3,1200.2 609.5,1197.9 610.7,1195.7 611.9,1193.4 613.2,1191.1 614.5,1188.6 616.0,1186.0 617.6,1183.1 619.3,1180.0 621.0,1176.8 622.9,1173.4 624.7,1170.1 626.6,1166.9 628.5,1163.8 630.3,1161.0 632.1,1158.4 633.8,1156.0 635.6,1153.8 637.3,1151.6 639.1,1149.5 640.9,1147.4 642.8,1145.2 644.8,1143.0 646.9,1140.7 649.1,1138.3 651.4,1135.9 653.7,1133.6 656.0,1131.2 658.4,1128.8 660.7,1126.4 663.0,1124.0 665.7,1123.0 668.4,1122.0 671.2,1121.0 673.9,1120.0 676.6,1119.1 679.3,1118.1 682.0,1117.3 684.7,1116.5 687.4,1115.8 690.2,1115.3 693.1,1114.9 695.9,1114.4 698.6,1114.0 701.2,1113.6 703.7,1113.1 706.0,1112.5 708.1,1111.8 709.9,1111.2 711.6,1110.5 713.2,1109.8 714.8,1109.0 716.3,1108.1 717.8,1107.1 719.4,1106.0 721.0,1104.7 722.6,1103.4 724.2,1101.9 725.8,1100.3 727.4,1098.7 728.9,1097.0 730.5,1095.3 732.0,1093.7 733.5,1092.1 734.9,1090.4 736.4,1088.7 737.8,1087.0 739.2,1085.3 740.7,1083.6 742.1,1081.9 743.6,1080.1 745.1,1078.3 746.7,1076.6 748.3,1074.8 749.9,1073.0 751.5,1071.2 753.1,1069.4 754.7,1067.5 756.2,1065.6 757.7,1063.6 759.2,1061.6 760.6,1059.6 762.1,1057.5 763.5,1055.4 764.9,1053.3 766.4,1051.2 767.8,1049.1 769.2,1047.0 770.7,1044.8 772.1,1042.6 773.6,1040.5 775.0,1038.3 776.5,1036.1 777.9,1033.9 779.4,1031.7 780.8,1029.5 782.3,1027.3 783.7,1025.1 785.2,1023.0 786.6,1020.8 788.1,1018.6 789.5,1016.4 791.0,1014.2 792.5,1012.0 793.9,1009.8 795.4,1007.6 796.9,1005.4 798.3,1003.3 799.8,1001.1 801.2,998.9 802.7,996.8 804.2,994.7 805.6,992.6 807.1,990.5 808.6,988.5 810.0,986.4 811.5,984.4 812.9,982.4 814.3,980.3 815.6,978.4 816.7,976.7 817.7,975.1 818.8,973.4 819.9,971.6 821.3,969.5 822.9,967.0 824.9,963.9 827.3,960.1 830.1,955.8 833.1,951.0 836.4,945.9 839.7,940.7 843.0,935.5 846.3,930.6 849.5,926.0 852.5,921.8 855.6,917.7 858.6,913.7 861.6,909.8 864.6,906.0 867.7,902.3 870.7,898.6 873.7,895.0 876.7,891.5 879.8,888.1 882.8,884.7 885.8,881.5 888.8,878.2 891.9,875.0 894.9,871.8 897.9,868.5 900.9,865.2 903.9,861.8 907.0,858.5 910.0,855.2 913.0,851.8 916.0,848.5 919.1,845.2 922.1,842.0 925.1,838.8 928.1,835.7 931.2,832.6 934.2,829.5 937.2,826.4 940.2,823.3 943.3,820.2 946.3,817.0 949.3,813.8 952.4,810.6 955.4,807.4 958.4,804.1 961.5,800.9 964.5,797.6 967.6,794.3 970.6,791.0 973.6,787.7 976.7,784.3 979.7,780.9 982.7,777.6 985.7,774.2 988.8,770.8 991.8,767.4 994.8,764.0 997.8,760.6 1000.8,757.2 1003.9,753.9 1006.9,750.5 1009.9,747.1 1012.9,743.8 1016.0,740.4 1019.0,737.0 1022.1,733.6 1025.2,730.1 1028.4,726.6 1031.6,723.1 1034.7,719.7 1037.7,716.3 1040.5,713.1 1043.2,710.0 1045.6,707.2 1047.7,704.5 1049.7,702.1 1051.6,699.7 1053.5,697.3 1055.5,694.8 1057.6,692.2 1060.0,689.4 1062.7,686.3 1065.5,683.1 1068.5,679.7 1071.6,676.2 1074.8,672.7 1078.0,669.3 1081.1,665.9 1084.2,662.8 1087.2,659.8 1090.2,657.0 1093.3,654.2 1096.3,651.4 1099.3,648.8 1102.4,646.2 1105.4,643.6 1108.4,641.0 1111.4,638.5 1114.4,636.0 1117.5,633.5 1120.5,631.2 1123.5,628.8 1126.5,626.4 1129.6,624.0 1132.6,621.6 1135.7,619.2 1138.8,616.7 1141.9,614.3 1145.1,611.8 1148.1,609.4 1151.2,606.9 1154.1,604.5 1156.9,602.2 1159.5,599.9 1161.8,597.7 1164.1,595.6 1166.3,593.5 1168.5,591.3 1170.8,589.1 1173.4,586.9 1176.2,584.5 1179.4,582.0 1182.9,579.3 1186.6,576.6 1190.4,573.8 1194.3,571.0 1198.1,568.4 1201.8,565.8 1205.3,563.5 1208.6,561.4 1211.7,559.4 1214.7,557.5 1217.7,555.7 1220.6,554.0 1223.6,552.3 1226.5,550.7 1229.5,549.0 1232.5,547.4 1235.5,545.8 1238.6,544.3 1241.6,542.8 1244.6,541.3 1247.7,539.9 1250.7,538.4 1253.7,536.9 1256.7,535.4 1259.8,533.8 1262.8,532.3 1265.8,530.7 1268.8,529.2 1271.9,527.7 1274.9,526.2 1277.9,524.7 1280.9,523.2 1284.0,521.8 1287.0,520.4 1290.0,518.9 1293.0,517.6 1296.0,516.2 1299.1,515.0 1302.1,513.8 1305.1,512.7 1308.1,511.7 1311.2,510.7 1314.2,509.7 1317.2,508.9 1320.2,508.1 1323.3,507.3 1326.3,506.6 1329.3,506.0 1332.4,505.4 1335.4,504.9 1338.4,504.4 1341.5,504.0 1344.5,503.7 1347.6,503.3 1350.6,503.0 1353.6,502.7 1356.7,502.5 1359.7,502.3 1362.7,502.2 1365.7,502.1 1368.8,502.0 1371.8,501.8 1374.8,501.7 1377.9,501.5 1381.0,501.4 1384.1,501.2 1387.3,501.0 1390.4,500.8 1393.4,500.7 1396.3,500.6 1399.0,500.5 1401.5,500.5 1403.8,500.4 1406.0,500.4 1408.1,500.4 1410.2,500.5 1412.3,500.6 1414.6,500.7 1417.0,501.0 1419.6,501.4 1422.4,501.8 1425.2,502.3 1428.1,502.9 1431.1,503.5 1434.0,504.2 1437.0,504.8 1440.0,505.4 1443.0,505.9 1446.0,506.5 1449.0,507.0 1452.0,507.5 1455.1,508.0 1458.1,508.6 1461.2,509.4 1464.2,510.2 1467.2,511.2 1470.2,512.2 1473.3,513.4 1476.3,514.6 1479.3,515.9 1482.4,517.2 1485.4,518.5 1488.4,519.9 1491.4,521.3 1494.4,522.8 1497.5,524.3 1500.5,525.8 1503.5,527.4 1506.5,528.9 1509.6,530.5 1512.6,532.0 1515.6,533.5 1518.7,535.0 1521.7,536.5 1524.8,538.0 1527.8,539.6 1530.8,541.1 1533.9,542.6 1536.9,544.1 1539.9,545.6 1543.0,547.1 1546.0,548.6 1549.0,550.2 1552.0,551.7 1555.1,553.2 1558.1,554.7 1561.1,556.2 1564.1,557.7 1567.1,559.2 1570.2,560.6 1573.2,562.1 1576.2,563.6 1579.2,565.1 1582.3,566.7 1585.3,568.3 1588.3,570.0 1591.3,571.8 1594.4,573.6 1597.4,575.4 1600.4,577.3 1603.5,579.2 1606.5,581.1 1609.5,582.9 1612.5,584.7 1615.5,586.6 1618.6,588.5 1621.6,590.3 1624.6,592.1 1627.7,593.9 1630.7,595.7 1633.7,597.4 1636.7,599.0 1639.8,600.6 1642.8,602.2 1645.8,603.8 1648.8,605.2 1651.9,606.7 1654.9,608.1 1657.9,609.5 1661.0,610.9 1664.2,612.2 1667.5,613.5 1670.8,614.8 1673.9,616.0 1676.9,617.2 1679.7,618.2 1682.1,619.2 1684.2,620.0 1686.0,620.7 1687.5,621.4 1688.9,621.9 1690.2,622.4 1691.5,622.9 1692.8,623.4 1694.2,624.0 1697.2,622.8 1700.1,621.6 1703.0,620.5 1705.9,619.3 1708.9,618.1 1711.9,616.9 1715.1,615.6 1718.4,614.3 1721.9,612.9 1725.6,611.5 1729.4,610.0 1733.3,608.5 1737.2,607.0 1741.2,605.5 1745.1,604.0 1749.0,602.5 1751.3,598.7 1753.7,595.0 1756.0,591.2 1758.4,587.5 1760.7,583.7 1763.1,579.9 1765.4,576.0 1767.8,572.1 1770.2,568.1 1772.6,564.0 1775.1,559.9 1777.5,555.8 1780.0,551.6 1782.4,547.3 1784.9,543.0 1787.3,538.7 1789.8,534.3 1792.4,529.8 1795.0,525.3 1797.6,520.8 1800.1,516.2 1802.5,511.6 1804.8,507.0 1806.8,502.5 1808.6,498.0 1810.2,493.4 1811.6,488.8 1812.9,484.2 1814.2,479.7 1815.4,475.2 1816.7,470.7 1818.0,466.3 1819.4,462.0 1820.7,457.8 1822.0,453.6 1823.4,449.4 1824.7,445.3 1826.1,441.2 1827.6,437.1 1829.1,432.9 1830.7,428.8 1832.4,424.7 1834.1,420.6 1835.9,416.5 1837.7,412.4 1839.5,408.2 1841.2,403.9 1843.0,399.5 1844.8,394.8 1846.6,389.9 1848.4,384.8 1850.2,379.6 1852.0,374.6 1853.7,369.6 1855.4,364.9 1857.0,360.5 1858.5,356.6 1859.8,353.0 1861.1,349.7 1862.4,346.6 1863.7,343.5 1865.0,340.2 1866.5,336.6 1868.1,332.7 1869.9,328.3 1871.9,323.7 1874.0,318.8 1876.1,313.7 1878.3,308.6 1880.5,303.5 1882.7,298.5 1884.8,293.7 1886.9,289.0 1889.0,284.5 1891.1,279.9 1893.2,275.4 1895.2,271.0 1897.3,266.5 1899.4,262.0 1901.5,257.5 1903.6,252.9 1905.8,248.2 1907.9,243.4 1910.1,238.7 1912.2,234.1 1914.3,229.6 1916.3,225.3 1918.2,221.3 1920.0,217.6 1921.7,214.2 1923.3,211.0 1924.8,208.0 1926.4,205.0 1927.9,202.1 1929.4,199.1 1931.0,196.0 1934.8,192.3 1938.6,188.7 1942.3,185.0 1946.1,181.4 1949.9,177.7 1953.8,174.0 1957.8,170.3 1962.1,166.5 1966.6,162.7 1971.3,158.8 1976.1,154.9 1981.0,150.9 1986.0,147.0 1991.0,143.0 1996.0,139.0 2000.9,135.1 2005.4,135.2 2010.0,135.3 2014.5,135.4 2019.1,135.5 2023.6,135.6 2028.1,135.7 2032.6,135.9 2037.0,136.0 2041.3,136.1 2045.6,136.3 2049.8,136.4 2054.0,136.6 2058.2,136.7 2062.4,136.9 2066.7,137.2 2071.1,137.5 2075.6,137.9 2080.1,138.3 2084.7,138.8 2089.4,139.3 2094.0,139.9 2098.7,140.4 2103.4,141.0 2108.0,141.5" fill="none" stroke="#e5106a" stroke-width="5.4" stroke-linejoin="round"/>
<g fill="none" stroke="#111" stroke-width="2.8" stroke-dasharray="9 6.5"><ellipse cx="1851.1" cy="375.4" rx="60.5" ry="28"/><ellipse cx="1901.9" cy="962.9" rx="93" ry="32"/></g>
<g stroke="#333" stroke-width="2.6"><line x1="1790.6" y1="370.7" x2="1756" y2="370.7"/><line x1="1994.9" y1="959.6" x2="2031" y2="959.6"/></g>
<g fill="#000"><polygon points="1721.2,370.7 1759,357.3 1759,384"/><polygon points="2064.1,959.6 2028.8,947.2 2028.8,972.6"/></g></g>
<g stroke="#000" stroke-width="7.2" stroke-linecap="round"><line x1="243.1" y1="1529.4" x2="270.7" y2="1529.4"/><line x1="257.1" y1="1436.7" x2="270.7" y2="1436.7"/><line x1="243.1" y1="1344.0" x2="270.7" y2="1344.0"/><line x1="257.1" y1="1251.3" x2="270.7" y2="1251.3"/><line x1="243.1" y1="1158.6" x2="270.7" y2="1158.6"/><line x1="257.1" y1="1065.9" x2="270.7" y2="1065.9"/><line x1="243.1" y1="973.2" x2="270.7" y2="973.2"/><line x1="257.1" y1="880.5" x2="270.7" y2="880.5"/><line x1="243.1" y1="787.9" x2="270.7" y2="787.9"/><line x1="257.1" y1="695.2" x2="270.7" y2="695.2"/><line x1="243.1" y1="602.5" x2="270.7" y2="602.5"/><line x1="257.1" y1="509.8" x2="270.7" y2="509.8"/><line x1="243.1" y1="417.1" x2="270.7" y2="417.1"/><line x1="257.1" y1="324.4" x2="270.7" y2="324.4"/><line x1="243.1" y1="231.7" x2="270.7" y2="231.7"/><line x1="257.1" y1="139.0" x2="270.7" y2="139.0"/><line x1="243.1" y1="46.3" x2="270.7" y2="46.3"/><line x1="2108.7" y1="1529.4" x2="2136.3" y2="1529.4"/><line x1="2108.7" y1="1405.8" x2="2121.7" y2="1405.8"/><line x1="2108.7" y1="1282.2" x2="2136.3" y2="1282.2"/><line x1="2108.7" y1="1158.6" x2="2121.7" y2="1158.6"/><line x1="2108.7" y1="1035.0" x2="2136.3" y2="1035.0"/><line x1="2108.7" y1="911.4" x2="2121.7" y2="911.4"/><line x1="2108.7" y1="787.9" x2="2136.3" y2="787.9"/><line x1="2108.7" y1="664.3" x2="2121.7" y2="664.3"/><line x1="2108.7" y1="540.7" x2="2136.3" y2="540.7"/><line x1="2108.7" y1="417.1" x2="2121.7" y2="417.1"/><line x1="2108.7" y1="293.5" x2="2136.3" y2="293.5"/><line x1="2108.7" y1="169.9" x2="2121.7" y2="169.9"/><line x1="2108.7" y1="46.3" x2="2136.3" y2="46.3"/><line x1="270.7" y1="1529.4" x2="270.7" y2="1556.4"/><line x1="423.9" y1="1529.4" x2="423.9" y2="1541.9"/><line x1="577.0" y1="1529.4" x2="577.0" y2="1556.4"/><line x1="730.2" y1="1529.4" x2="730.2" y2="1541.9"/><line x1="883.4" y1="1529.4" x2="883.4" y2="1556.4"/><line x1="1036.5" y1="1529.4" x2="1036.5" y2="1541.9"/><line x1="1189.7" y1="1529.4" x2="1189.7" y2="1556.4"/><line x1="1342.9" y1="1529.4" x2="1342.9" y2="1541.9"/><line x1="1496.0" y1="1529.4" x2="1496.0" y2="1556.4"/><line x1="1649.2" y1="1529.4" x2="1649.2" y2="1541.9"/><line x1="1802.4" y1="1529.4" x2="1802.4" y2="1556.4"/><line x1="1955.5" y1="1529.4" x2="1955.5" y2="1541.9"/><line x1="2108.7" y1="1529.4" x2="2108.7" y2="1556.4"/></g>
<rect x="270.7" y="46.3" width="1838.0" height="1483.1" fill="none" stroke="#000" stroke-width="7.2" stroke-linejoin="miter"/>
<g font-family='"Liberation Sans", Arial, Helvetica, sans-serif' font-weight="bold" font-size="61.5" fill="#000"><text text-anchor="end" transform="translate(221.0,1548.2) scale(1,1.05)">0</text><text text-anchor="end" transform="translate(221.0,1362.8) scale(1,1.05)">10</text><text text-anchor="end" transform="translate(221.0,1177.4) scale(1,1.05)">20</text><text text-anchor="end" transform="translate(221.0,992.0) scale(1,1.05)">30</text><text text-anchor="end" transform="translate(221.0,806.6) scale(1,1.05)">40</text><text text-anchor="end" transform="translate(221.0,621.3) scale(1,1.05)">50</text><text text-anchor="end" transform="translate(221.0,435.9) scale(1,1.05)">60</text><text text-anchor="end" transform="translate(221.0,250.5) scale(1,1.05)">70</text><text text-anchor="end" transform="translate(221.0,65.1) scale(1,1.05)">80</text><text transform="translate(2157.0,1547.9) scale(1,1.05)">0</text><text transform="translate(2157.0,1300.7) scale(1,1.05)">5</text><text transform="translate(2157.0,1053.5) scale(1,1.05)">10</text><text transform="translate(2157.0,806.4) scale(1,1.05)">15</text><text transform="translate(2157.0,559.2) scale(1,1.05)">20</text><text transform="translate(2157.0,312.0) scale(1,1.05)">25</text><text transform="translate(2157.0,64.8) scale(1,1.05)">30</text><text text-anchor="middle" transform="translate(270.7,1626.0) scale(1,1.05)">200</text><text text-anchor="middle" transform="translate(577.0,1626.0) scale(1,1.05)">300</text><text text-anchor="middle" transform="translate(883.4,1626.0) scale(1,1.05)">400</text><text text-anchor="middle" transform="translate(1189.7,1626.0) scale(1,1.05)">500</text><text text-anchor="middle" transform="translate(1496.0,1626.0) scale(1,1.05)">600</text><text text-anchor="middle" transform="translate(1802.4,1626.0) scale(1,1.05)">700</text><text text-anchor="middle" transform="translate(2108.7,1626.0) scale(1,1.05)">800</text></g>
<g font-family='"Liberation Sans", Arial, Helvetica, sans-serif' font-weight="bold" font-size="68.5" fill="#000"><text text-anchor="middle" transform="translate(1189.6,1731.7) scale(1,1.06)">Wavelength (nm)</text><text transform="translate(79.8,1073.5) rotate(-90) scale(1,1.06)">Transmittance (%)</text><text transform="translate(2345.6,1032.0) rotate(-90) scale(1,1.06)">Reflectivity (%)</text></g>
<g font-family='"Liberation Sans", Arial, Helvetica, sans-serif' font-weight="bold" font-size="49.5"><line x1="340.5" y1="119.4" x2="454" y2="119.4" stroke="#078507" stroke-width="5.4"/><line x1="343" y1="145.7" x2="452" y2="145.7" stroke="#078507" stroke-width="5.6" stroke-dasharray="11.5 21" stroke-linecap="round"/><text fill="#078507" transform="translate(510.5,150.6) scale(1,1.05)">D = 0 nm</text><line x1="340.5" y1="195.4" x2="454" y2="195.4" stroke="#f98c00" stroke-width="5.4"/><line x1="343" y1="221.8" x2="452" y2="221.8" stroke="#f98c00" stroke-width="5.6" stroke-dasharray="11.5 21" stroke-linecap="round"/><text fill="#f98c00" transform="translate(510.5,226.6) scale(1,1.05)">D = 200 nm</text><line x1="340.5" y1="269.7" x2="454" y2="269.7" stroke="#7c0a7c" stroke-width="5.4"/><line x1="343" y1="296.0" x2="452" y2="296.0" stroke="#7c0a7c" stroke-width="5.6" stroke-dasharray="11.5 21" stroke-linecap="round"/><text fill="#7c0a7c" transform="translate(510.5,300.9) scale(1,1.05)">D = 400 nm</text><line x1="340.5" y1="344.4" x2="454" y2="344.4" stroke="#e5106a" stroke-width="5.4"/><line x1="343" y1="369.0" x2="452" y2="369.0" stroke="#e5106a" stroke-width="5.6" stroke-dasharray="11.5 21" stroke-linecap="round"/><text fill="#e5106a" transform="translate(510.5,374.7) scale(1,1.05)">D = 600 nm</text></g></svg>
</body></html>
